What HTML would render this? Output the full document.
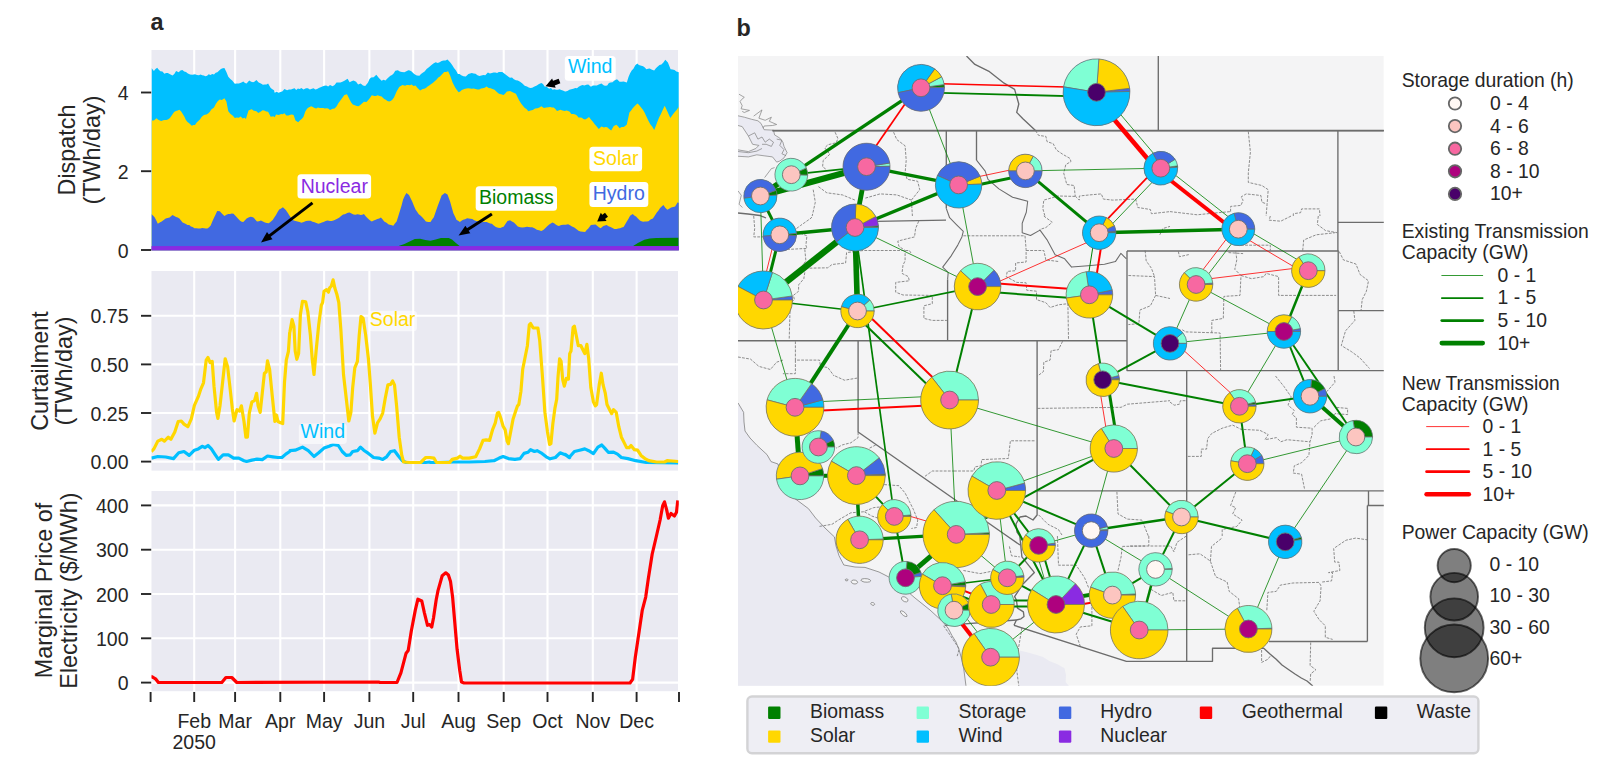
<!DOCTYPE html>
<html><head><meta charset="utf-8"><title>Figure</title>
<style>
html,body{margin:0;padding:0;background:#fff;}
body{width:1618px;height:766px;overflow:hidden;}
svg{display:block;font-family:"Liberation Sans", sans-serif;}
</style></head><body>
<svg width="1618" height="766" viewBox="0 0 1618 766">
<rect width="1618" height="766" fill="#fff"/>
<rect x="151.5" y="50.0" width="526.5" height="200.4" fill="#EAEAF2"/>
<clipPath id="c1"><rect x="151.5" y="50.0" width="527.3" height="200.4"/></clipPath>
<line x1="194.2" y1="50.0" x2="194.2" y2="250.4" stroke="#fff" stroke-width="2.1"/>
<line x1="235.1" y1="50.0" x2="235.1" y2="250.4" stroke="#fff" stroke-width="2.1"/>
<line x1="280.3" y1="50.0" x2="280.3" y2="250.4" stroke="#fff" stroke-width="2.1"/>
<line x1="324.1" y1="50.0" x2="324.1" y2="250.4" stroke="#fff" stroke-width="2.1"/>
<line x1="369.4" y1="50.0" x2="369.4" y2="250.4" stroke="#fff" stroke-width="2.1"/>
<line x1="413.2" y1="50.0" x2="413.2" y2="250.4" stroke="#fff" stroke-width="2.1"/>
<line x1="458.5" y1="50.0" x2="458.5" y2="250.4" stroke="#fff" stroke-width="2.1"/>
<line x1="503.7" y1="50.0" x2="503.7" y2="250.4" stroke="#fff" stroke-width="2.1"/>
<line x1="547.5" y1="50.0" x2="547.5" y2="250.4" stroke="#fff" stroke-width="2.1"/>
<line x1="592.8" y1="50.0" x2="592.8" y2="250.4" stroke="#fff" stroke-width="2.1"/>
<line x1="636.6" y1="50.0" x2="636.6" y2="250.4" stroke="#fff" stroke-width="2.1"/>
<line x1="151.5" y1="92.5" x2="678.0" y2="92.5" stroke="#fff" stroke-width="2.1"/>
<line x1="151.5" y1="171.2" x2="678.0" y2="171.2" stroke="#fff" stroke-width="2.1"/>
<polygon points="151.5,250.4 151.5,68.1 153.9,70.9 155.5,69.0 157.2,67.7 158.8,69.8 160.4,71.2 162.4,71.6 164.4,73.7 166.1,73.1 167.8,73.0 169.6,73.9 172.5,75.4 174.3,73.9 176.1,71.1 178.7,72.3 180.5,70.4 182.4,69.9 184.2,71.6 186.0,72.1 187.9,73.4 190.1,74.5 192.4,74.7 195.0,74.3 197.0,75.0 198.9,75.3 200.6,74.4 202.2,75.3 203.8,75.5 205.5,76.3 207.1,75.8 208.7,74.3 210.5,74.9 212.2,74.0 214.0,74.4 215.7,72.7 217.4,72.3 219.2,70.5 220.9,68.9 222.7,68.3 224.4,68.1 226.4,71.9 228.3,76.7 230.3,78.9 232.2,80.5 234.8,83.7 236.8,83.5 238.8,83.6 241.0,82.7 243.3,81.4 245.0,83.0 246.6,83.4 249.2,80.6 251.2,81.8 253.1,82.3 254.7,81.4 256.4,80.0 258.7,82.4 260.9,83.6 262.9,84.7 264.9,84.6 266.5,84.5 268.1,83.5 270.7,88.1 272.4,89.3 274.0,90.3 274.7,92.8 276.6,91.8 278.6,92.8 280.5,92.1 282.5,91.3 284.4,89.1 287.1,90.2 289.0,89.4 291.0,89.6 292.9,88.8 294.6,88.3 296.2,89.9 297.9,88.4 299.7,89.1 301.4,88.0 303.4,89.4 306.0,88.2 307.9,88.2 309.9,89.4 311.9,88.8 313.6,88.3 315.3,89.4 317.1,89.1 318.8,87.9 320.6,87.3 322.3,86.6 324.3,85.8 326.2,85.6 328.2,86.6 330.0,85.1 332.6,86.2 334.6,85.0 336.5,82.5 338.5,82.4 340.4,82.4 342.4,81.8 344.4,80.7 346.0,79.8 347.6,78.8 349.6,82.3 351.5,81.3 353.5,80.6 356.1,81.7 358.1,84.4 360.7,83.5 363.0,85.6 365.2,85.9 367.9,82.7 369.5,79.1 371.1,77.4 373.7,77.2 376.3,74.7 378.9,78.1 381.6,80.8 383.5,79.7 385.5,80.4 387.1,78.7 388.7,77.3 390.4,75.7 392.0,74.9 393.6,73.4 395.3,70.8 397.9,70.3 399.8,71.4 401.8,71.9 404.4,72.3 406.4,71.3 408.3,70.3 409.9,70.6 411.6,71.4 414.2,74.0 416.8,75.6 419.4,75.8 421.0,73.9 422.7,72.8 424.6,71.6 426.6,69.0 428.9,67.3 431.2,65.2 433.4,63.4 435.7,62.2 437.7,62.9 439.6,62.2 441.6,60.9 443.6,60.4 445.5,60.5 447.5,59.5 450.1,62.3 452.0,64.7 454.0,67.9 456.0,70.6 457.9,74.0 459.6,74.0 461.2,75.3 463.5,76.2 465.8,76.6 468.4,74.1 470.1,73.4 471.8,73.0 473.6,73.5 475.5,73.7 477.5,75.3 479.5,76.1 481.4,75.6 483.4,75.1 485.3,75.3 487.9,72.6 489.9,73.4 491.9,73.1 493.6,72.4 495.3,72.6 497.1,73.1 498.8,72.1 500.6,72.0 502.3,71.9 504.3,73.4 506.2,75.0 508.8,77.1 510.0,77.8 512.0,77.6 513.9,79.3 515.9,80.3 517.8,80.6 520.1,81.7 522.4,83.6 524.7,85.8 527.0,86.6 528.7,87.5 530.4,87.9 532.2,87.7 534.5,86.6 536.8,85.4 539.0,84.1 541.3,83.1 543.0,84.0 544.6,86.4 546.9,87.0 549.2,88.7 550.9,87.9 552.6,89.7 554.4,89.3 556.1,89.8 557.9,89.7 559.6,89.2 561.2,89.9 562.9,90.4 565.1,91.4 567.4,90.9 569.4,89.8 571.3,89.3 573.3,88.7 575.3,88.1 577.0,88.2 578.7,86.8 580.5,85.8 582.4,85.1 584.4,85.5 586.4,84.7 588.3,84.4 590.9,86.7 592.9,85.6 594.8,85.5 596.8,85.6 598.8,84.4 601.4,83.5 604.0,85.5 605.6,85.8 607.2,85.5 608.9,82.9 610.5,82.5 612.5,82.2 614.4,80.4 617.0,79.2 619.6,81.8 621.6,81.8 623.6,81.5 625.2,81.9 626.8,82.6 628.5,77.0 630.1,73.2 631.7,70.5 633.4,68.7 635.3,65.2 637.3,63.4 638.9,65.1 640.5,65.6 643.1,66.3 644.8,67.5 646.4,69.2 648.0,68.7 649.7,68.6 652.0,69.7 654.2,70.5 655.9,68.2 657.5,66.8 659.5,65.0 661.4,64.4 663.4,62.5 665.3,59.7 667.9,62.5 670.6,69.3 672.5,69.5 674.5,69.9 676.4,71.5 678.9,72.2 678.9,250.4" fill="#00BFFF" clip-path="url(#c1)"/>
<polygon points="151.5,250.4 151.5,120.5 153.9,120.6 156.5,118.3 158.2,119.8 159.8,120.6 161.4,121.0 163.1,120.3 164.8,120.0 166.5,120.1 168.3,119.3 169.9,118.0 171.5,115.7 174.1,112.0 175.9,111.0 177.6,110.6 179.4,109.8 181.0,111.3 182.6,113.8 184.3,116.6 185.9,120.0 187.5,121.9 189.2,123.2 191.8,125.8 193.4,124.9 195.0,125.1 196.7,122.6 198.3,120.9 199.9,119.6 201.6,117.1 203.2,115.6 204.8,114.8 206.5,114.6 208.1,113.6 209.7,112.1 211.3,109.4 214.0,107.5 215.9,103.8 217.9,101.1 219.8,99.4 221.8,100.1 224.4,98.2 226.4,101.5 228.3,111.3 230.3,113.8 232.9,115.7 234.8,117.9 236.8,117.6 238.8,117.7 240.7,116.6 242.7,118.6 244.6,117.8 245.9,119.1 248.5,110.5 250.2,109.8 251.8,109.3 253.8,110.7 256.4,111.2 258.3,113.1 260.9,111.6 262.6,110.3 264.2,110.4 266.2,111.6 268.1,111.8 270.7,116.7 273.4,116.2 274.7,117.3 276.0,114.4 278.6,115.0 281.2,114.1 282.8,114.3 284.4,113.2 286.4,115.4 288.4,115.5 290.3,114.8 292.0,114.6 293.6,114.9 295.5,120.5 298.2,122.2 300.1,120.3 301.7,119.0 303.4,117.0 305.3,111.5 307.0,108.7 308.6,107.4 311.2,106.2 312.8,107.0 314.5,108.1 316.2,108.5 317.9,107.6 319.7,107.9 321.4,108.0 323.2,108.0 324.9,108.4 326.5,108.2 328.2,108.5 330.0,109.9 332.6,108.8 334.6,108.4 336.5,106.6 338.5,103.0 340.4,100.5 342.4,97.7 344.4,95.0 347.0,94.3 349.6,99.6 351.2,102.5 352.8,104.5 354.8,105.3 356.8,105.9 358.4,106.3 360.0,105.3 362.0,103.5 363.9,101.7 366.5,102.0 369.2,99.1 371.8,95.2 374.4,96.0 376.0,96.0 377.6,95.2 379.6,96.0 381.6,96.6 384.2,99.1 385.8,99.8 387.4,101.1 389.1,101.6 390.7,101.1 392.3,99.8 394.0,97.6 396.6,91.5 399.2,87.0 400.8,86.1 402.4,85.1 405.1,85.8 406.7,85.0 408.3,84.9 409.9,85.2 411.6,84.4 413.5,86.0 415.5,85.5 417.5,88.0 420.1,90.5 422.7,89.0 424.3,88.8 425.9,88.0 427.6,86.4 429.2,85.4 430.9,84.3 432.7,82.9 434.4,81.4 436.4,79.8 438.3,77.6 440.0,76.5 441.6,74.7 444.2,71.9 446.2,71.9 448.1,71.2 450.1,75.4 452.7,82.8 455.3,87.7 456.9,90.1 458.6,92.2 460.2,91.4 461.8,90.1 464.4,89.0 466.4,88.5 468.4,88.3 470.1,88.4 471.8,88.7 473.6,88.4 475.5,89.1 477.5,89.5 479.2,89.4 481.0,88.4 482.7,88.3 484.7,87.8 486.6,86.6 488.6,87.9 490.6,88.3 492.5,89.0 494.5,89.8 497.1,92.3 499.0,93.7 501.0,94.3 503.6,95.0 505.2,93.5 506.9,91.6 508.8,91.2 510.0,91.0 512.6,92.2 514.2,93.0 515.9,93.8 517.5,96.9 519.1,100.3 521.1,103.4 523.1,105.9 524.8,108.0 526.5,109.0 528.3,111.2 530.6,110.5 532.8,109.9 535.1,108.6 537.4,108.2 539.4,107.4 541.3,106.2 543.9,108.1 546.2,107.4 548.5,107.2 550.2,107.1 552.0,107.4 553.7,107.5 555.4,109.0 557.0,110.9 558.6,110.4 560.3,109.7 562.5,110.6 564.8,111.1 566.5,110.6 568.1,110.9 569.7,111.7 571.3,113.9 573.3,114.0 575.3,114.6 576.9,115.5 578.5,117.4 580.2,117.4 581.8,117.7 583.4,119.0 585.1,119.6 587.0,118.6 589.0,117.1 590.9,119.5 592.9,121.8 594.5,124.0 596.1,125.7 598.8,129.1 601.4,126.4 604.0,127.6 605.6,127.0 607.2,127.3 609.2,128.9 611.2,130.5 613.8,125.9 616.4,124.7 618.0,126.2 619.6,128.2 621.6,127.1 623.6,127.1 625.2,125.9 626.8,124.5 629.4,112.5 631.1,110.5 632.7,108.3 635.0,105.7 637.3,103.5 638.9,104.8 640.5,106.7 643.1,110.0 644.8,112.9 646.4,116.5 648.4,120.7 650.3,124.2 652.3,126.7 654.2,130.1 655.9,125.7 657.5,121.5 659.1,117.5 660.8,114.2 662.7,109.9 664.7,105.8 667.3,111.3 670.3,118.0 673.2,114.0 674.8,112.1 676.4,110.2 678.9,106.8 678.9,250.4" fill="#FFD700" clip-path="url(#c1)"/>
<polygon points="151.5,250.4 151.5,213.9 152.9,215.4 154.6,217.3 156.2,220.2 157.8,223.8 159.8,222.6 161.7,221.4 163.7,220.0 165.7,218.4 167.6,218.0 169.6,217.5 172.5,214.9 174.3,215.9 176.1,216.9 177.7,217.5 179.4,218.5 181.0,220.6 182.6,222.6 184.3,223.3 185.9,224.1 187.5,224.9 189.2,224.9 190.9,226.4 192.6,227.1 194.4,228.2 196.3,228.2 198.3,228.5 200.3,228.5 202.2,228.0 204.0,228.3 205.7,228.5 207.4,228.5 209.1,227.2 210.7,225.6 212.3,221.5 214.0,217.8 215.6,214.6 217.2,211.1 219.8,211.3 222.1,213.7 224.4,215.9 226.4,214.8 228.3,214.0 230.1,214.0 231.8,213.6 233.5,213.7 235.2,215.5 236.8,217.3 238.4,219.1 240.1,220.7 241.7,221.7 243.3,222.0 245.0,220.2 246.6,218.6 248.5,217.5 250.5,216.8 252.1,216.9 253.8,217.7 255.4,219.7 257.0,221.5 259.0,221.2 260.9,220.4 262.9,221.6 264.9,222.5 266.8,222.9 268.8,223.3 270.7,221.8 272.7,219.9 274.3,217.4 276.0,215.0 277.6,211.9 279.2,209.4 281.1,208.4 282.9,207.3 285.8,209.9 287.7,212.7 289.7,215.9 291.6,218.4 293.6,220.6 295.5,221.1 297.5,221.5 299.5,222.0 301.4,222.7 303.7,222.1 306.0,221.0 308.3,220.8 310.6,220.7 312.5,221.8 314.5,222.3 316.4,223.1 318.4,223.8 320.1,223.3 321.9,222.6 323.6,221.9 325.6,221.0 327.5,220.5 330.0,221.1 331.7,220.9 333.5,220.5 335.2,219.7 337.2,218.7 339.1,217.8 341.1,216.1 343.1,214.6 344.7,214.2 346.3,213.5 347.9,212.8 349.6,212.6 351.5,213.6 353.5,214.6 355.5,214.7 357.4,214.3 359.0,214.6 360.7,215.0 362.3,214.7 363.9,214.1 365.9,216.6 367.9,218.6 369.8,220.3 371.8,221.6 373.7,220.6 375.7,219.8 377.4,218.9 379.2,218.4 380.9,217.5 382.5,219.3 384.2,221.5 386.5,222.8 388.7,224.4 391.0,224.9 393.3,225.8 394.9,223.5 396.6,221.4 398.2,216.4 399.8,211.2 401.5,205.7 403.1,199.6 404.7,196.1 406.4,193.0 409.0,195.0 410.6,198.2 412.2,201.5 413.9,205.7 415.5,209.5 417.1,211.8 418.8,214.2 420.4,215.5 422.0,217.1 424.0,219.3 425.9,221.5 428.2,222.0 430.5,222.0 432.1,219.4 433.8,217.3 435.7,211.7 437.7,206.0 439.6,200.9 441.6,195.6 443.2,194.3 444.9,192.9 447.5,194.5 450.1,201.6 451.7,207.3 453.4,213.3 455.0,216.4 456.6,219.9 458.2,220.8 459.9,221.9 461.5,220.7 463.1,219.8 465.1,219.2 467.1,218.3 468.8,218.6 470.5,218.8 472.3,219.0 474.2,220.2 476.2,221.1 477.9,221.6 479.7,221.9 481.4,222.3 483.2,222.0 484.9,222.1 486.6,222.0 488.4,222.7 490.1,223.5 491.9,223.7 493.8,225.5 495.8,226.9 498.1,227.7 500.3,228.0 502.0,227.2 503.6,226.7 505.6,223.8 507.5,221.1 510.0,220.3 512.0,221.6 513.9,222.5 515.9,224.4 517.8,226.4 520.1,227.2 522.4,227.6 524.7,227.3 527.0,226.8 528.7,227.1 530.4,227.2 532.2,227.3 534.5,228.3 536.8,229.7 539.0,230.2 541.3,231.0 543.3,229.9 545.2,228.3 547.2,226.3 549.2,224.5 550.8,223.6 552.4,222.4 554.1,223.3 555.7,224.6 557.3,225.6 558.9,226.0 561.2,225.1 563.5,224.7 565.8,224.7 568.1,224.2 570.0,225.2 572.0,226.4 574.3,227.6 576.6,229.2 578.5,230.8 580.5,231.6 582.8,231.8 585.1,232.1 586.7,230.1 588.3,228.4 590.9,225.1 593.2,224.7 595.5,224.6 597.1,225.8 598.8,227.2 600.7,228.3 603.3,225.9 605.0,225.5 606.6,225.0 608.5,226.3 610.5,227.0 612.5,228.0 614.4,229.0 616.4,229.0 618.3,228.6 620.1,228.3 621.8,227.5 623.6,227.0 625.2,224.3 626.8,221.4 628.5,218.7 630.1,215.8 632.7,214.1 634.3,215.6 636.0,216.5 637.9,218.5 639.9,220.5 641.5,221.2 643.1,221.7 644.9,221.6 646.6,221.4 648.4,221.2 650.6,219.6 652.9,218.5 654.9,215.4 656.8,212.6 658.5,210.5 660.1,208.1 661.7,206.6 663.4,205.1 665.3,207.7 667.3,209.8 669.2,208.7 671.2,207.4 673.2,206.9 675.1,206.4 677.7,202.2 678.9,202.9 678.9,250.4" fill="#4169E1" clip-path="url(#c1)"/>
<polygon points="397.9,246.2 404.4,244.0 409.6,241.4 414.8,239.0 420.1,238.8 425.3,240.1 430.5,240.7 435.7,239.4 440.9,238.1 448.8,238.1 452.0,239.4 455.3,242.4 459.9,246.2" fill="#008000" clip-path="url(#c1)"/>
<polygon points="632.7,246.2 637.9,242.9 644.4,239.8 649.7,238.5 656.2,238.1 678.4,237.7 678.4,246.2" fill="#008000" clip-path="url(#c1)"/>
<rect x="151.5" y="246.1" width="527.4" height="4.3" fill="#8A2BE2"/>
<line x1="141.0" y1="92.5" x2="151.2" y2="92.5" stroke="#262626" stroke-width="1.9"/>
<text x="128.5" y="100.0" font-size="19.50" text-anchor="end" fill="#262626" font-weight="normal" >4</text>
<line x1="141.0" y1="171.2" x2="151.2" y2="171.2" stroke="#262626" stroke-width="1.9"/>
<text x="128.5" y="178.7" font-size="19.50" text-anchor="end" fill="#262626" font-weight="normal" >2</text>
<line x1="141.0" y1="250.0" x2="151.2" y2="250.0" stroke="#262626" stroke-width="1.9"/>
<text x="128.5" y="257.5" font-size="19.50" text-anchor="end" fill="#262626" font-weight="normal" >0</text>
<text transform="translate(74.7,150.0) rotate(-90)" font-size="23.40" text-anchor="middle" fill="#262626">Dispatch</text>
<text transform="translate(100.1,150.0) rotate(-90)" font-size="23.40" text-anchor="middle" fill="#262626">(TWh/day)</text>
<rect x="564.8" y="55.9" width="50.9" height="24.8" rx="3.5" ry="3.5" fill="#fff" fill-opacity="1.00"/>
<text x="590.2" y="72.8" font-size="19.50" text-anchor="middle" fill="#00BFFF" font-weight="normal" >Wind</text>
<rect x="589.4" y="146.7" width="52.7" height="24.6" rx="3.5" ry="3.5" fill="#fff" fill-opacity="1.00"/>
<text x="615.8" y="164.9" font-size="19.50" text-anchor="middle" fill="#FFD700" font-weight="normal" >Solar</text>
<rect x="589.4" y="182.0" width="58.9" height="25.1" rx="3.5" ry="3.5" fill="#fff" fill-opacity="1.00"/>
<text x="618.8" y="199.8" font-size="19.50" text-anchor="middle" fill="#4169E1" font-weight="normal" >Hydro</text>
<rect x="475.7" y="186.2" width="81.3" height="24.5" rx="3.5" ry="3.5" fill="#fff" fill-opacity="1.00"/>
<text x="516.4" y="203.8" font-size="19.50" text-anchor="middle" fill="#008000" font-weight="normal" >Biomass</text>
<rect x="297.5" y="174.3" width="73.6" height="24.3" rx="3.5" ry="3.5" fill="#fff" fill-opacity="1.00"/>
<text x="334.3" y="192.6" font-size="19.50" text-anchor="middle" fill="#8A2BE2" font-weight="normal" >Nuclear</text>
<line x1="312.5" y1="202.9" x2="268.1" y2="236.9" stroke="#000" stroke-width="3.0"/>
<polygon points="261.0,242.4 267.0,232.1 272.5,239.3" fill="#000"/>
<line x1="491.9" y1="214.0" x2="466.2" y2="230.6" stroke="#000" stroke-width="3.0"/>
<polygon points="458.6,235.5 465.4,225.8 470.3,233.3" fill="#000"/>
<line x1="559.5" y1="81.0" x2="552.0" y2="83.8" stroke="#000" stroke-width="5.0"/>
<polygon points="545.5,86.3 552.1,78.4 555.7,87.8" fill="#000"/>
<line x1="606.5" y1="214.8" x2="602.1" y2="218.0" stroke="#000" stroke-width="5.0"/>
<polygon points="597.2,221.5 600.8,212.8 606.6,220.9" fill="#000"/>
<text x="150.6" y="30.0" font-size="23.40" text-anchor="start" fill="#262626" font-weight="bold" >a</text>
<rect x="151.5" y="271.0" width="526.5" height="199.6" fill="#EAEAF2"/>
<clipPath id="c2"><rect x="151.5" y="271.0" width="527.3" height="199.6"/></clipPath>
<line x1="194.2" y1="271.0" x2="194.2" y2="470.6" stroke="#fff" stroke-width="2.1"/>
<line x1="235.1" y1="271.0" x2="235.1" y2="470.6" stroke="#fff" stroke-width="2.1"/>
<line x1="280.3" y1="271.0" x2="280.3" y2="470.6" stroke="#fff" stroke-width="2.1"/>
<line x1="324.1" y1="271.0" x2="324.1" y2="470.6" stroke="#fff" stroke-width="2.1"/>
<line x1="369.4" y1="271.0" x2="369.4" y2="470.6" stroke="#fff" stroke-width="2.1"/>
<line x1="413.2" y1="271.0" x2="413.2" y2="470.6" stroke="#fff" stroke-width="2.1"/>
<line x1="458.5" y1="271.0" x2="458.5" y2="470.6" stroke="#fff" stroke-width="2.1"/>
<line x1="503.7" y1="271.0" x2="503.7" y2="470.6" stroke="#fff" stroke-width="2.1"/>
<line x1="547.5" y1="271.0" x2="547.5" y2="470.6" stroke="#fff" stroke-width="2.1"/>
<line x1="592.8" y1="271.0" x2="592.8" y2="470.6" stroke="#fff" stroke-width="2.1"/>
<line x1="636.6" y1="271.0" x2="636.6" y2="470.6" stroke="#fff" stroke-width="2.1"/>
<line x1="151.5" y1="315.8" x2="678.0" y2="315.8" stroke="#fff" stroke-width="2.1"/>
<line x1="151.5" y1="364.4" x2="678.0" y2="364.4" stroke="#fff" stroke-width="2.1"/>
<line x1="151.5" y1="413.0" x2="678.0" y2="413.0" stroke="#fff" stroke-width="2.1"/>
<line x1="151.5" y1="461.6" x2="678.0" y2="461.6" stroke="#fff" stroke-width="2.1"/>
<polyline points="151.3,458.1 157.8,456.5 165.7,457.0 173.5,458.6 178.7,452.8 184.0,451.5 189.2,455.4 194.4,450.2 198.3,448.9 202.2,446.3 204.9,447.6 208.0,445.5 211.4,448.9 214.8,454.1 218.4,459.4 223.1,454.9 228.4,454.9 233.6,458.1 238.8,458.1 244.0,460.7 246.6,461.5 251.9,460.1 257.1,459.1 262.3,459.6 267.5,456.0 272.8,456.8 278.0,457.5 281.9,457.5 285.8,454.1 289.7,451.5 290.0,450.7 295.2,450.2 302.5,447.1 308.3,450.7 314.0,456.5 318.7,452.8 324.0,448.1 329.2,446.3 333.1,444.5 338.3,445.5 342.2,451.5 346.2,455.4 350.1,454.9 352.7,451.5 357.4,450.7 360.5,447.1 363.7,450.2 368.4,453.4 373.6,457.5 378.8,458.1 382.7,459.4 386.6,456.8 390.6,451.5 394.5,450.7 398.4,456.0 402.3,460.7 406.2,462.5 425.8,462.5 429.7,462.0 430.0,462.5 436.5,462.5 453.5,462.0 469.2,462.0 484.9,461.5 494.0,460.7 499.2,458.1 503.1,456.5 508.4,458.6 514.9,459.4 520.1,458.6 524.0,453.4 527.9,452.3 530.6,449.7 534.5,451.5 537.1,450.7 541.0,452.8 546.2,456.8 550.1,458.8 555.4,457.5 560.1,452.8 564.5,454.4 569.7,457.5 565.2,454.4 569.1,457.5 574.4,451.5 579.6,450.2 584.8,448.9 588.7,450.7 593.4,453.6 597.9,447.1 601.8,445.0 604.9,448.4 608.3,452.3 613.5,452.1 617.5,454.1 621.4,457.5 627.9,458.6 635.7,460.7 646.2,462.5 678.1,462.8" fill="none" stroke="#00BFFF" stroke-width="3.2" stroke-linejoin="round" clip-path="url(#c2)"/>
<polyline points="151.3,451.5 153.9,448.9 157.8,441.1 161.8,439.3 164.4,441.1 168.3,437.2 170.9,439.3 174.8,431.9 178.2,421.5 181.3,421.0 184.0,424.1 187.9,426.7 191.3,418.9 194.4,405.3 198.3,396.7 200.9,388.8 203.5,382.8 206.2,360.1 208.0,357.5 210.1,362.7 212.2,361.4 214.0,386.2 216.6,412.4 217.9,418.4 220.0,405.8 222.6,382.3 225.2,358.8 227.6,366.6 229.7,384.9 232.3,408.4 234.1,421.0 237.0,409.7 239.6,411.0 241.4,405.8 244.0,421.5 245.9,437.2 247.4,437.2 249.3,413.1 251.9,401.9 254.5,400.6 256.6,393.3 258.1,405.8 260.2,412.4 262.3,392.8 264.4,373.2 266.2,371.9 267.5,360.9 269.6,369.3 272.2,395.4 274.9,421.5 276.4,415.0 278.0,421.5 280.6,422.8 282.7,423.6 284.5,382.3 286.3,360.1 288.4,351.5 289.7,332.7 290.0,331.4 292.1,319.6 293.9,326.2 295.2,351.0 296.8,359.3 298.6,353.6 300.4,314.4 302.5,301.3 305.7,301.9 307.8,311.8 310.4,335.3 312.2,358.8 314.0,374.5 316.1,351.0 318.7,324.9 321.3,305.3 322.6,302.6 324.0,291.4 326.6,289.6 328.4,292.2 329.7,287.8 331.3,286.2 333.1,279.9 334.9,288.3 337.0,294.8 338.8,302.6 340.9,330.1 343.5,374.5 346.2,398.0 348.8,421.0 350.9,412.4 352.7,387.5 354.8,367.9 357.4,361.4 359.2,335.3 361.0,316.5 363.1,318.3 365.7,335.3 368.4,358.8 370.4,384.9 372.5,416.3 374.9,433.2 377.5,422.8 380.1,418.9 382.7,413.1 385.3,398.0 387.9,384.9 390.6,384.4 392.6,381.0 394.5,384.9 396.6,405.8 399.2,437.2 401.8,455.4 403.6,462.0 410.1,462.5 420.6,462.5 425.8,457.5 429.7,457.5 430.0,457.5 433.9,458.1 436.5,462.5 449.6,462.5 452.2,459.4 457.4,458.1 460.0,456.2 462.6,458.1 469.2,458.1 475.7,456.8 479.6,448.9 483.0,440.3 486.2,439.8 489.6,440.3 492.7,429.3 495.3,422.8 497.4,413.1 498.7,412.4 501.0,418.9 503.1,426.2 505.2,429.9 507.1,441.1 508.4,443.7 510.4,433.2 513.1,418.9 515.7,411.0 517.5,405.8 518.8,404.5 520.9,391.5 522.7,369.3 525.3,356.2 527.4,345.7 529.3,324.9 530.6,323.5 533.2,328.0 535.8,328.0 537.9,328.0 539.7,340.5 542.3,374.5 544.9,412.4 547.5,431.9 549.6,444.5 550.9,443.7 552.8,424.1 554.9,408.4 556.7,399.3 558.0,377.1 559.6,358.8 561.1,361.4 562.7,379.7 564.3,386.2 566.3,378.4 568.4,379.2 569.7,353.6 571.0,351.0 573.1,327.5 574.4,326.2 576.2,335.3 578.3,345.7 580.9,345.7 583.5,351.0 584.8,353.6 586.9,344.4 588.7,358.8 590.8,387.5 593.4,401.9 595.3,405.8 596.6,404.5 599.2,384.9 601.3,373.2 603.1,384.9 605.2,392.8 607.0,404.5 609.6,409.7 611.7,413.7 613.5,409.7 616.2,412.4 618.8,426.7 621.4,437.2 624.0,442.4 626.6,447.6 629.2,447.6 631.0,445.5 634.4,449.7 637.6,450.2 641.0,455.4 644.9,458.6 648.8,460.7 656.6,462.0 664.5,462.0 667.1,460.7 678.1,461.5" fill="none" stroke="#FFD700" stroke-width="3.2" stroke-linejoin="round" clip-path="url(#c2)"/>
<line x1="141.0" y1="315.8" x2="151.2" y2="315.8" stroke="#262626" stroke-width="1.9"/>
<text x="128.5" y="323.3" font-size="19.50" text-anchor="end" fill="#262626" font-weight="normal" >0.75</text>
<line x1="141.0" y1="364.4" x2="151.2" y2="364.4" stroke="#262626" stroke-width="1.9"/>
<text x="128.5" y="371.9" font-size="19.50" text-anchor="end" fill="#262626" font-weight="normal" >0.50</text>
<line x1="141.0" y1="413.0" x2="151.2" y2="413.0" stroke="#262626" stroke-width="1.9"/>
<text x="128.5" y="420.5" font-size="19.50" text-anchor="end" fill="#262626" font-weight="normal" >0.25</text>
<line x1="141.0" y1="461.6" x2="151.2" y2="461.6" stroke="#262626" stroke-width="1.9"/>
<text x="128.5" y="469.1" font-size="19.50" text-anchor="end" fill="#262626" font-weight="normal" >0.00</text>
<text transform="translate(47.5,371.0) rotate(-90)" font-size="23.40" text-anchor="middle" fill="#262626">Curtailment</text>
<text transform="translate(72.4,371.0) rotate(-90)" font-size="23.40" text-anchor="middle" fill="#262626">(TWh/day)</text>
<rect x="368.3" y="310.7" width="48.6" height="20.6" rx="3.5" ry="3.5" fill="#fff" fill-opacity="0.60"/>
<text x="392.6" y="325.8" font-size="19.50" text-anchor="middle" fill="#FFD700" font-weight="normal" >Solar</text>
<rect x="298.8" y="423.4" width="48.0" height="20.5" rx="3.5" ry="3.5" fill="#fff" fill-opacity="0.60"/>
<text x="322.8" y="438.4" font-size="19.50" text-anchor="middle" fill="#00BFFF" font-weight="normal" >Wind</text>
<rect x="151.5" y="491.0" width="526.5" height="200.2" fill="#EAEAF2"/>
<clipPath id="c3"><rect x="151.5" y="491.0" width="527.3" height="200.2"/></clipPath>
<line x1="194.2" y1="491.0" x2="194.2" y2="691.2" stroke="#fff" stroke-width="2.1"/>
<line x1="235.1" y1="491.0" x2="235.1" y2="691.2" stroke="#fff" stroke-width="2.1"/>
<line x1="280.3" y1="491.0" x2="280.3" y2="691.2" stroke="#fff" stroke-width="2.1"/>
<line x1="324.1" y1="491.0" x2="324.1" y2="691.2" stroke="#fff" stroke-width="2.1"/>
<line x1="369.4" y1="491.0" x2="369.4" y2="691.2" stroke="#fff" stroke-width="2.1"/>
<line x1="413.2" y1="491.0" x2="413.2" y2="691.2" stroke="#fff" stroke-width="2.1"/>
<line x1="458.5" y1="491.0" x2="458.5" y2="691.2" stroke="#fff" stroke-width="2.1"/>
<line x1="503.7" y1="491.0" x2="503.7" y2="691.2" stroke="#fff" stroke-width="2.1"/>
<line x1="547.5" y1="491.0" x2="547.5" y2="691.2" stroke="#fff" stroke-width="2.1"/>
<line x1="592.8" y1="491.0" x2="592.8" y2="691.2" stroke="#fff" stroke-width="2.1"/>
<line x1="636.6" y1="491.0" x2="636.6" y2="691.2" stroke="#fff" stroke-width="2.1"/>
<line x1="151.5" y1="505.4" x2="678.0" y2="505.4" stroke="#fff" stroke-width="2.1"/>
<line x1="151.5" y1="549.7" x2="678.0" y2="549.7" stroke="#fff" stroke-width="2.1"/>
<line x1="151.5" y1="594.0" x2="678.0" y2="594.0" stroke="#fff" stroke-width="2.1"/>
<line x1="151.5" y1="638.3" x2="678.0" y2="638.3" stroke="#fff" stroke-width="2.1"/>
<line x1="151.5" y1="682.6" x2="678.0" y2="682.6" stroke="#fff" stroke-width="2.1"/>
<polyline points="150.8,676.3 153.3,677.5 155.9,679.2 158.4,682.5 221.8,682.5 225.9,677.5 231.8,677.5 236.8,682.5 378.6,682.0 380.0,682.5 397.0,682.5 400.9,672.8 406.1,653.2 408.2,650.6 411.3,631.0 415.3,610.1 417.9,599.2 421.8,601.0 424.4,612.8 427.5,625.3 429.6,624.5 431.7,627.1 433.5,618.0 436.2,599.7 438.0,590.6 442.2,575.7 445.8,572.8 448.4,574.9 450.5,581.4 452.6,597.1 454.4,618.0 457.1,649.3 459.7,670.2 461.5,682.0 464.1,683.0 520.0,683.0 600.0,683.0 630.0,683.0 632.6,679.4 635.3,657.2 639.2,631.0 642.3,610.1 645.7,597.1 648.3,578.8 652.2,554.0 656.2,537.0 660.1,520.0 662.7,505.7 664.5,501.8 666.6,509.6 668.4,518.2 671.0,513.5 674.4,516.1 676.5,512.2 677.8,500.4" fill="none" stroke="#FF0000" stroke-width="3.2" stroke-linejoin="round" clip-path="url(#c3)"/>
<line x1="141.0" y1="505.4" x2="151.2" y2="505.4" stroke="#262626" stroke-width="1.9"/>
<text x="128.5" y="512.9" font-size="19.50" text-anchor="end" fill="#262626" font-weight="normal" >400</text>
<line x1="141.0" y1="549.7" x2="151.2" y2="549.7" stroke="#262626" stroke-width="1.9"/>
<text x="128.5" y="557.2" font-size="19.50" text-anchor="end" fill="#262626" font-weight="normal" >300</text>
<line x1="141.0" y1="594.0" x2="151.2" y2="594.0" stroke="#262626" stroke-width="1.9"/>
<text x="128.5" y="601.5" font-size="19.50" text-anchor="end" fill="#262626" font-weight="normal" >200</text>
<line x1="141.0" y1="638.3" x2="151.2" y2="638.3" stroke="#262626" stroke-width="1.9"/>
<text x="128.5" y="645.8" font-size="19.50" text-anchor="end" fill="#262626" font-weight="normal" >100</text>
<line x1="141.0" y1="682.6" x2="151.2" y2="682.6" stroke="#262626" stroke-width="1.9"/>
<text x="128.5" y="690.1" font-size="19.50" text-anchor="end" fill="#262626" font-weight="normal" >0</text>
<text transform="translate(51.6,590.6) rotate(-90)" font-size="23.40" text-anchor="middle" fill="#262626">Marginal Price of</text>
<text transform="translate(77.0,590.6) rotate(-90)" font-size="23.40" text-anchor="middle" fill="#262626">Electricity ($/MWh)</text>
<line x1="150.6" y1="692.0" x2="150.6" y2="702.0" stroke="#262626" stroke-width="1.9"/>
<line x1="194.2" y1="692.0" x2="194.2" y2="702.0" stroke="#262626" stroke-width="1.9"/>
<line x1="235.1" y1="692.0" x2="235.1" y2="702.0" stroke="#262626" stroke-width="1.9"/>
<line x1="280.3" y1="692.0" x2="280.3" y2="702.0" stroke="#262626" stroke-width="1.9"/>
<line x1="324.1" y1="692.0" x2="324.1" y2="702.0" stroke="#262626" stroke-width="1.9"/>
<line x1="369.4" y1="692.0" x2="369.4" y2="702.0" stroke="#262626" stroke-width="1.9"/>
<line x1="413.2" y1="692.0" x2="413.2" y2="702.0" stroke="#262626" stroke-width="1.9"/>
<line x1="458.5" y1="692.0" x2="458.5" y2="702.0" stroke="#262626" stroke-width="1.9"/>
<line x1="503.7" y1="692.0" x2="503.7" y2="702.0" stroke="#262626" stroke-width="1.9"/>
<line x1="547.5" y1="692.0" x2="547.5" y2="702.0" stroke="#262626" stroke-width="1.9"/>
<line x1="592.8" y1="692.0" x2="592.8" y2="702.0" stroke="#262626" stroke-width="1.9"/>
<line x1="636.6" y1="692.0" x2="636.6" y2="702.0" stroke="#262626" stroke-width="1.9"/>
<line x1="679.0" y1="692.0" x2="679.0" y2="702.0" stroke="#262626" stroke-width="1.9"/>
<text x="194.2" y="727.6" font-size="19.50" text-anchor="middle" fill="#262626" font-weight="normal" >Feb</text>
<text x="235.1" y="727.6" font-size="19.50" text-anchor="middle" fill="#262626" font-weight="normal" >Mar</text>
<text x="280.3" y="727.6" font-size="19.50" text-anchor="middle" fill="#262626" font-weight="normal" >Apr</text>
<text x="324.1" y="727.6" font-size="19.50" text-anchor="middle" fill="#262626" font-weight="normal" >May</text>
<text x="369.4" y="727.6" font-size="19.50" text-anchor="middle" fill="#262626" font-weight="normal" >Jun</text>
<text x="413.2" y="727.6" font-size="19.50" text-anchor="middle" fill="#262626" font-weight="normal" >Jul</text>
<text x="458.5" y="727.6" font-size="19.50" text-anchor="middle" fill="#262626" font-weight="normal" >Aug</text>
<text x="503.7" y="727.6" font-size="19.50" text-anchor="middle" fill="#262626" font-weight="normal" >Sep</text>
<text x="547.5" y="727.6" font-size="19.50" text-anchor="middle" fill="#262626" font-weight="normal" >Oct</text>
<text x="592.8" y="727.6" font-size="19.50" text-anchor="middle" fill="#262626" font-weight="normal" >Nov</text>
<text x="636.6" y="727.6" font-size="19.50" text-anchor="middle" fill="#262626" font-weight="normal" >Dec</text>
<text x="194.2" y="748.6" font-size="19.50" text-anchor="middle" fill="#262626" font-weight="normal" >2050</text>
<text x="736.6" y="36.3" font-size="23.40" text-anchor="start" fill="#262626" font-weight="bold" >b</text>
<clipPath id="cm"><rect x="738.0" y="55.9" width="645.8" height="629.9"/></clipPath>
<g clip-path="url(#cm)">
<rect x="738.0" y="55.9" width="645.8" height="629.9" fill="#F4F4F5"/>
<polygon points="738.0,402.9 743.6,412.3 744.0,422.0 745.0,431.0 750.0,438.0 756.8,445.2 762.0,450.0 767.0,454.6 771.0,461.6 778.0,464.0 782.0,480.0 790.0,495.0 799.0,501.6 808.5,508.7 815.6,518.0 825.0,528.0 834.4,536.9 836.0,546.0 839.0,555.7 843.8,565.0 855.0,567.0 865.0,567.4 879.0,572.0 888.4,576.8 900.0,585.0 915.0,598.0 930.0,610.0 942.5,621.5 948.0,628.0 952.0,635.6 956.0,642.0 959.0,649.7 962.0,660.0 963.7,668.5 966.0,686.0 738.0,686.0" fill="#EAEAF2"/>
<polyline points="738.0,402.9 743.6,412.3 744.0,422.0 745.0,431.0 750.0,438.0 756.8,445.2 762.0,450.0 767.0,454.6 771.0,461.6 778.0,464.0 782.0,480.0 790.0,495.0 799.0,501.6 808.5,508.7 815.6,518.0 825.0,528.0 834.4,536.9 836.0,546.0 839.0,555.7 843.8,565.0 855.0,567.0 865.0,567.4 879.0,572.0 888.4,576.8 900.0,585.0 915.0,598.0 930.0,610.0 942.5,621.5 948.0,628.0 952.0,635.6 956.0,642.0 959.0,649.7 962.0,660.0 963.7,668.5 966.0,686.0" fill="none" stroke="#808080" stroke-width="0.8"/>
<polygon points="1019.2,686.0 1019.9,650.5 1028.0,652.5 1037.5,655.2 1043.0,657.0 1049.3,661.1 1057.0,664.0 1064.5,668.2 1066.0,675.0 1065.7,682.3 1069.0,686.0" fill="#EAEAF2"/>
<polygon points="730.0,114.0 744.3,117.2 751.6,119.3 757.9,120.8 761.0,123.4 764.1,129.7 773.5,130.2 774.6,134.9 779.8,138.1 782.9,142.2 784.0,146.4 787.1,152.7 784.0,157.9 779.8,161.0 776.7,162.1 772.5,156.9 764.1,155.8 756.8,154.8 748.4,156.9 730.0,155.8" fill="#EAEAF2" stroke="#808080" stroke-width="0.7"/>
<polygon points="730.0,123.4 742.2,126.6 748.4,136.0 752.6,144.3 758.9,145.4 755.8,148.5 748.4,151.6 730.0,148.5" fill="#F4F4F5" stroke="#808080" stroke-width="0.7"/>
<polyline points="739.0,94.2 744.3,97.3 741.7,99.4 740.1,101.5 742.2,105.7 741.1,108.8 749.5,110.4 744.3,112.5 742.2,111.4" fill="none" stroke="#808080" stroke-width="0.7"/>
<polyline points="753.7,116.1 762.0,109.9 758.9,118.2 765.2,120.3 771.4,117.2 769.3,121.3 776.7,124.5 772.5,125.5 764.1,126.0 763.1,128.1" fill="none" stroke="#808080" stroke-width="0.7"/>
<polyline points="748.4,136.0 754.7,132.8 757.9,139.1 762.0,137.0 765.2,142.2 769.3,139.1 773.5,142.2 771.4,146.4 766.2,144.3 762.0,144.3" fill="none" stroke="#808080" stroke-width="0.7"/>
<polyline points="776.7,139.1 781.9,140.2 779.8,145.4 784.0,149.6 781.9,153.7 786.1,155.8" fill="none" stroke="#808080" stroke-width="0.7"/>
<polyline points="730.0,150.6 748.4,152.7 756.8,151.1 762.0,148.5" fill="none" stroke="#808080" stroke-width="0.7"/>
<polyline points="764.6,177.6 771.3,168.7 774.6,167.6" fill="none" stroke="#808080" stroke-width="0.7"/>
<polyline points="738.0,190.9 741.3,195.3 739.1,204.2 742.4,207.5" fill="none" stroke="#808080" stroke-width="0.7"/>
<polygon points="848.1,579.9 847.4,580.8 845.9,580.8 845.1,579.9 845.9,579.0 847.4,579.0" fill="#F4F4F5" stroke="#707070" stroke-width="0.7"/>
<polygon points="857.6,582.6 856.7,583.6 855.0,584.0 853.1,583.7 851.6,582.7 851.2,581.4 852.1,580.4 853.8,580.0 855.7,580.3 857.2,581.3" fill="#F4F4F5" stroke="#707070" stroke-width="0.7"/>
<polygon points="870.8,580.8 869.7,581.8 867.2,582.2 864.1,582.0 861.7,581.1 860.8,580.0 861.9,579.0 864.4,578.6 867.5,578.8 869.9,579.7" fill="#F4F4F5" stroke="#707070" stroke-width="0.7"/>
<polygon points="874.6,604.6 874.0,605.2 872.9,605.3 871.7,604.9 870.9,604.1 870.8,603.2 871.4,602.6 872.5,602.5 873.7,602.9 874.5,603.7" fill="#F4F4F5" stroke="#707070" stroke-width="0.7"/>
<polygon points="907.8,601.1 906.6,601.9 904.6,601.7 902.7,600.6 901.5,599.0 901.6,597.5 902.8,596.7 904.8,596.9 906.7,598.0 907.9,599.6" fill="#F4F4F5" stroke="#707070" stroke-width="0.7"/>
<polygon points="906.9,616.4 905.7,616.6 903.7,615.7 901.7,614.0 900.5,612.2 900.5,611.0 901.7,610.8 903.7,611.7 905.7,613.4 906.9,615.2" fill="#F4F4F5" stroke="#707070" stroke-width="0.7"/>
<polyline points="835.1,132.2 837.9,138.5 836.2,142.7 827.8,144.8 824.7,147.9 829.9,154.2 823.2,160.4 822.6,166.7 826.8,169.9" fill="none" stroke="#808080" stroke-width="0.9" stroke-dasharray="2.8,1.3"/>
<polyline points="893.6,132.2 896.8,139.6 905.1,145.8 906.2,160.4 905.1,173.0 907.2,179.3 917.7,181.3 919.7,189.7 911.4,200.1 912.4,216.0" fill="none" stroke="#808080" stroke-width="0.9" stroke-dasharray="2.8,1.3"/>
<polyline points="818.4,186.6 826.8,192.8 842.4,194.9 855.0,200.1" fill="none" stroke="#808080" stroke-width="0.9" stroke-dasharray="2.8,1.3"/>
<polyline points="813.2,189.7 815.3,202.2 812.2,216.0" fill="none" stroke="#808080" stroke-width="0.9" stroke-dasharray="2.8,1.3"/>
<polyline points="865.4,198.1 880.1,193.9 896.8,194.9 911.4,200.1" fill="none" stroke="#808080" stroke-width="0.9" stroke-dasharray="2.8,1.3"/>
<polyline points="1035.5,130.6 1038.6,135.4 1045.9,136.4 1047.0,141.6 1053.2,143.7 1056.4,150.0 1062.6,154.2 1069.9,158.4 1071.0,161.5 1065.8,164.6 1063.7,173.0 1066.8,184.5 1074.1,185.5 1075.2,196.0" fill="none" stroke="#808080" stroke-width="0.9" stroke-dasharray="2.8,1.3"/>
<polyline points="1075.2,196.0 1079.3,200.1 1079.3,196.0 1089.8,194.9 1101.3,193.9 1103.4,199.1 1112.8,200.1 1135.7,199.1 1137.8,207.5 1150.4,209.5 1151.4,213.7 1170.0,211.6" fill="none" stroke="#808080" stroke-width="0.9" stroke-dasharray="2.8,1.3"/>
<polyline points="1075.2,196.4 1058.4,196.0 1043.8,200.1 1042.8,208.5 1044.9,216.0" fill="none" stroke="#808080" stroke-width="0.9" stroke-dasharray="2.8,1.3"/>
<polyline points="1248.3,131.6 1250.4,152.1 1248.3,173.0 1248.3,182.4 1261.9,185.5 1268.2,189.7 1267.1,204.3 1266.1,216.0" fill="none" stroke="#808080" stroke-width="0.9" stroke-dasharray="2.8,1.3"/>
<polyline points="1230.6,211.6 1230.6,206.4 1241.0,205.4 1243.1,200.1 1241.0,197.0 1246.2,193.9 1260.9,195.5 1261.9,202.2 1266.5,203.9" fill="none" stroke="#808080" stroke-width="0.9" stroke-dasharray="2.8,1.3"/>
<polyline points="1293.3,216.0 1293.3,213.7 1300.6,212.7 1301.6,208.9 1319.4,208.9 1320.0,216.0" fill="none" stroke="#808080" stroke-width="0.9" stroke-dasharray="2.8,1.3"/>
<polyline points="1170.0,211.6 1197.2,214.8 1213.9,213.1 1230.6,211.6" fill="none" stroke="#808080" stroke-width="0.9" stroke-dasharray="2.8,1.3"/>
<polyline points="753.7,216.0 754.7,228.5 753.7,236.9 763.1,236.9" fill="none" stroke="#808080" stroke-width="0.9" stroke-dasharray="2.8,1.3"/>
<polyline points="796.5,228.5 800.7,225.4 811.1,218.1 812.2,216.0" fill="none" stroke="#808080" stroke-width="0.9" stroke-dasharray="2.8,1.3"/>
<polyline points="796.5,231.7 806.9,235.8 805.9,245.2 806.9,248.4 788.1,249.4" fill="none" stroke="#808080" stroke-width="0.9" stroke-dasharray="2.8,1.3"/>
<polyline points="804.8,249.4 805.9,260.9 802.8,265.1 806.9,268.2 827.8,267.8 832.0,264.5 845.6,263.0 846.6,252.6 863.3,250.5 909.3,250.5 911.4,253.6" fill="none" stroke="#808080" stroke-width="0.9" stroke-dasharray="2.8,1.3"/>
<polyline points="804.8,272.4 803.8,278.7 798.6,284.9 798.6,291.2 793.4,295.4 794.4,299.6 790.2,303.7 789.2,339.3" fill="none" stroke="#808080" stroke-width="0.9" stroke-dasharray="2.8,1.3"/>
<polyline points="918.7,221.2 915.6,228.5 914.5,236.9 897.8,241.1 898.9,246.3 905.1,250.5 905.1,260.9 903.0,265.1 902.0,273.4 908.3,276.6 909.3,280.8 895.7,282.4 895.7,292.2 903.0,295.0 932.3,295.4 932.3,303.7 923.9,305.8 923.9,318.4 932.3,320.4 946.9,320.4" fill="none" stroke="#808080" stroke-width="0.9" stroke-dasharray="2.8,1.3"/>
<polyline points="738.0,357.0 750.5,359.1 758.9,366.4 770.4,369.5 776.6,362.2 782.9,360.1" fill="none" stroke="#808080" stroke-width="0.9" stroke-dasharray="2.8,1.3"/>
<polyline points="795.4,341.3 795.4,360.1 819.5,360.1 820.5,366.4 827.8,367.5 834.1,376.0" fill="none" stroke="#808080" stroke-width="0.9" stroke-dasharray="2.8,1.3"/>
<polyline points="795.4,360.1 795.4,373.7 782.9,373.7" fill="none" stroke="#808080" stroke-width="0.9" stroke-dasharray="2.8,1.3"/>
<polyline points="963.4,235.8 1025.0,235.8 1026.1,249.4 1026.1,262.0 1015.6,263.0 1015.6,270.7 1007.3,271.4 1006.2,276.6 1016.7,282.4 1026.1,282.8 1026.7,290.2 1036.5,291.2 1036.5,299.6 1045.9,302.7 1050.1,307.5 1058.4,304.8 1067.9,303.7 1068.5,339.3" fill="none" stroke="#808080" stroke-width="0.9" stroke-dasharray="2.8,1.3"/>
<polyline points="1026.1,250.5 1043.8,250.5 1045.9,259.9 1058.4,261.5" fill="none" stroke="#808080" stroke-width="0.9" stroke-dasharray="2.8,1.3"/>
<polyline points="1043.8,216.0 1052.2,222.3 1045.9,227.5 1039.6,229.6" fill="none" stroke="#808080" stroke-width="0.9" stroke-dasharray="2.8,1.3"/>
<polyline points="1128.4,275.5 1154.5,276.6 1155.6,295.4 1170.0,298.5" fill="none" stroke="#808080" stroke-width="0.9" stroke-dasharray="2.8,1.3"/>
<polyline points="1145.1,250.5 1146.2,260.9 1151.4,268.2 1154.5,276.6" fill="none" stroke="#808080" stroke-width="0.9" stroke-dasharray="2.8,1.3"/>
<polyline points="1155.6,295.4 1150.4,305.8 1139.9,310.0 1138.9,323.6 1128.4,324.6" fill="none" stroke="#808080" stroke-width="0.9" stroke-dasharray="2.8,1.3"/>
<polyline points="1062.6,341.3 1058.4,349.7 1051.1,350.7 1050.1,360.1 1043.8,362.2 1043.4,371.6 1037.6,376.0" fill="none" stroke="#808080" stroke-width="0.9" stroke-dasharray="2.8,1.3"/>
<polyline points="1159.8,234.8 1162.9,228.5 1170.0,226.4" fill="none" stroke="#808080" stroke-width="0.9" stroke-dasharray="2.8,1.3"/>
<polyline points="1170.0,331.9 1182.5,329.9 1185.7,331.9 1220.1,333.0 1220.6,370.6" fill="none" stroke="#808080" stroke-width="0.9" stroke-dasharray="2.8,1.3"/>
<polyline points="1235.8,251.5 1236.8,259.9 1234.8,269.3 1241.0,275.5 1240.0,295.4 1223.9,296.4 1223.3,318.4 1211.8,320.4 1211.8,333.0" fill="none" stroke="#808080" stroke-width="0.9" stroke-dasharray="2.8,1.3"/>
<polyline points="1241.0,275.5 1251.5,278.7 1264.0,276.6 1266.1,273.4 1278.6,276.6 1278.6,295.4 1336.1,295.4" fill="none" stroke="#808080" stroke-width="0.9" stroke-dasharray="2.8,1.3"/>
<polyline points="1270.3,216.0 1269.2,220.2 1280.7,221.2 1291.2,216.0" fill="none" stroke="#808080" stroke-width="0.9" stroke-dasharray="2.8,1.3"/>
<polyline points="1318.3,216.0 1317.3,224.4 1325.6,230.6 1337.1,232.7" fill="none" stroke="#808080" stroke-width="0.9" stroke-dasharray="2.8,1.3"/>
<polyline points="1302.7,250.5 1303.7,240.0 1316.2,234.8 1335.0,232.7" fill="none" stroke="#808080" stroke-width="0.9" stroke-dasharray="2.8,1.3"/>
<polyline points="1241.0,245.2 1270.3,245.2 1270.3,250.5" fill="none" stroke="#808080" stroke-width="0.9" stroke-dasharray="2.8,1.3"/>
<polyline points="1178.4,251.5 1179.4,256.7 1188.8,254.6" fill="none" stroke="#808080" stroke-width="0.9" stroke-dasharray="2.8,1.3"/>
<polyline points="1339.2,251.5 1343.4,259.9 1355.9,264.0 1360.1,274.5 1368.5,280.8 1366.4,291.2 1362.2,299.6 1361.1,310.0" fill="none" stroke="#808080" stroke-width="0.9" stroke-dasharray="2.8,1.3"/>
<polyline points="1353.8,311.0 1354.9,320.4 1345.5,330.9 1341.3,345.5 1351.7,351.8 1360.1,358.1 1369.5,368.5" fill="none" stroke="#808080" stroke-width="0.9" stroke-dasharray="2.8,1.3"/>
<polyline points="1228.5,252.6 1243.1,253.6" fill="none" stroke="#808080" stroke-width="0.9" stroke-dasharray="2.8,1.3"/>
<polyline points="835.1,376.0 844.5,380.2 857.1,378.1" fill="none" stroke="#808080" stroke-width="0.9" stroke-dasharray="2.8,1.3"/>
<polyline points="858.1,432.4 858.1,437.6 850.8,442.8 842.4,444.9 836.2,448.1" fill="none" stroke="#808080" stroke-width="0.9" stroke-dasharray="2.8,1.3"/>
<polyline points="869.6,448.1 875.9,444.9" fill="none" stroke="#808080" stroke-width="0.9" stroke-dasharray="2.8,1.3"/>
<polyline points="884.2,484.6 898.9,485.7 905.1,493.0 909.3,501.3 913.5,509.7 917.7,520.1 916.6,527.5 911.4,528.5" fill="none" stroke="#808080" stroke-width="0.9" stroke-dasharray="2.8,1.3"/>
<polyline points="819.5,526.4 832.0,524.3 838.3,520.1 850.8,512.8 863.3,511.8 873.8,507.6 884.2,506.6" fill="none" stroke="#808080" stroke-width="0.9" stroke-dasharray="2.8,1.3"/>
<polyline points="925.0,476.3 932.3,471.0 954.0,471.0" fill="none" stroke="#808080" stroke-width="0.9" stroke-dasharray="2.8,1.3"/>
<polyline points="864.4,511.8 871.7,516.0 878.0,518.1" fill="none" stroke="#808080" stroke-width="0.9" stroke-dasharray="2.8,1.3"/>
<polyline points="1037.6,408.4 1121.1,407.3 1127.4,404.2 1170.0,400.7" fill="none" stroke="#808080" stroke-width="0.9" stroke-dasharray="2.8,1.3"/>
<polyline points="954.0,471.0 973.8,471.0 974.9,466.9 981.2,465.8 981.6,459.6 1008.3,458.5 1010.4,440.8 1035.5,440.8" fill="none" stroke="#808080" stroke-width="0.9" stroke-dasharray="2.8,1.3"/>
<polyline points="1116.9,491.9 1118.0,513.9 1127.4,519.1 1142.0,520.1 1148.3,536.0" fill="none" stroke="#808080" stroke-width="0.9" stroke-dasharray="2.8,1.3"/>
<polyline points="1038.6,514.9 1048.0,524.3 1058.4,529.5 1062.6,536.0" fill="none" stroke="#808080" stroke-width="0.9" stroke-dasharray="2.8,1.3"/>
<polyline points="1170.0,402.1 1174.2,405.2 1179.4,404.2 1180.4,400.7 1185.7,400.7" fill="none" stroke="#808080" stroke-width="0.9" stroke-dasharray="2.8,1.3"/>
<polyline points="1187.8,456.4 1201.3,456.4 1201.3,449.1 1206.6,449.1 1207.6,438.7 1211.8,433.4 1222.2,428.2 1232.7,425.1 1241.0,429.3 1259.8,430.3 1268.2,434.5 1265.0,439.7 1276.5,437.6 1280.7,441.8 1287.0,439.7 1310.0,441.8" fill="none" stroke="#808080" stroke-width="0.9" stroke-dasharray="2.8,1.3"/>
<polyline points="1275.5,376.0 1283.9,386.4 1291.2,396.9 1288.0,405.2 1294.3,410.5 1292.2,414.6 1296.4,417.8 1296.4,427.2 1312.1,428.2 1312.1,434.5 1310.0,441.8 1308.9,455.4 1301.6,462.7 1294.3,465.8 1293.3,473.1 1301.6,474.2 1304.7,489.9" fill="none" stroke="#808080" stroke-width="0.9" stroke-dasharray="2.8,1.3"/>
<polyline points="1314.1,427.2 1320.4,420.9 1330.9,418.8 1335.0,413.6 1347.6,414.6 1347.6,408.4 1335.0,407.3" fill="none" stroke="#808080" stroke-width="0.9" stroke-dasharray="2.8,1.3"/>
<polyline points="1334.0,376.0 1335.0,382.3 1326.7,391.7" fill="none" stroke="#808080" stroke-width="0.9" stroke-dasharray="2.8,1.3"/>
<polyline points="1235.8,491.9 1230.6,505.5 1235.8,507.6 1232.7,513.9 1242.1,520.1 1236.8,526.4 1222.2,529.5 1222.2,536.0" fill="none" stroke="#808080" stroke-width="0.9" stroke-dasharray="2.8,1.3"/>
<polyline points="963.4,570.5 980.1,573.6 990.6,571.5" fill="none" stroke="#808080" stroke-width="0.9" stroke-dasharray="2.8,1.3"/>
<polyline points="1009.4,546.4 1011.5,555.8 1019.8,556.9" fill="none" stroke="#808080" stroke-width="0.9" stroke-dasharray="2.8,1.3"/>
<polyline points="1057.4,536.0 1058.5,565.2 1076.2,565.2 1084.6,577.8 1088.8,588.2" fill="none" stroke="#808080" stroke-width="0.9" stroke-dasharray="2.8,1.3"/>
<polyline points="1091.9,598.7 1091.9,625.8 1080.4,626.9 1076.2,634.2 1080.4,646.7" fill="none" stroke="#808080" stroke-width="0.9" stroke-dasharray="2.8,1.3"/>
<polyline points="1118.0,570.5 1121.1,556.9 1122.2,546.4 1146.0,546.0" fill="none" stroke="#808080" stroke-width="0.9" stroke-dasharray="2.8,1.3"/>
<polyline points="943.6,625.8 950.9,636.3 959.2,648.8 957.2,656.1" fill="none" stroke="#808080" stroke-width="0.9" stroke-dasharray="2.8,1.3"/>
<polyline points="1021.9,627.9 1017.7,653.0 1016.7,669.7 1018.8,686.0" fill="none" stroke="#808080" stroke-width="0.9" stroke-dasharray="2.8,1.3"/>
<polyline points="1130.0,546.0 1170.7,546.0 1173.9,551.7 1177.0,542.3 1186.4,536.0" fill="none" stroke="#808080" stroke-width="0.9" stroke-dasharray="2.8,1.3"/>
<polyline points="1188.5,554.8 1200.0,553.8 1210.4,561.1 1215.6,576.7 1227.1,582.0 1229.2,591.4 1238.6,598.7 1239.7,607.0" fill="none" stroke="#808080" stroke-width="0.9" stroke-dasharray="2.8,1.3"/>
<polyline points="1210.4,561.1 1211.5,546.4 1221.9,538.1" fill="none" stroke="#808080" stroke-width="0.9" stroke-dasharray="2.8,1.3"/>
<polyline points="1150.9,589.3 1161.3,595.5 1172.8,592.4 1173.9,600.8 1186.4,600.8" fill="none" stroke="#808080" stroke-width="0.9" stroke-dasharray="2.8,1.3"/>
<polyline points="1266.8,610.2 1267.9,592.4 1276.2,591.4 1280.4,585.1 1292.9,583.0 1319.1,582.4 1321.1,586.1 1320.1,600.8 1313.8,611.2 1319.1,619.6 1325.3,625.8 1325.3,637.3 1332.6,639.4" fill="none" stroke="#808080" stroke-width="0.9" stroke-dasharray="2.8,1.3"/>
<polyline points="1322.2,582.0 1331.6,580.9 1332.6,572.6 1328.5,572.6 1339.9,570.5 1338.9,562.1 1334.7,562.1 1333.7,548.5 1346.0,540.2 1355.6,538.1 1367.3,539.8" fill="none" stroke="#808080" stroke-width="0.9" stroke-dasharray="2.8,1.3"/>
<polyline points="1310.7,642.5 1310.1,665.5 1315.9,669.7 1310.7,673.9 1310.1,682.2" fill="none" stroke="#808080" stroke-width="0.9" stroke-dasharray="2.8,1.3"/>
<polyline points="1261.6,649.9 1261.6,662.4 1267.9,659.3 1271.0,655.1" fill="none" stroke="#808080" stroke-width="0.9" stroke-dasharray="2.8,1.3"/>
<polyline points="1148.8,536.0 1148.8,546.0" fill="none" stroke="#808080" stroke-width="0.9" stroke-dasharray="2.8,1.3"/>
<polyline points="772.5,130.6 1384.0,130.6" fill="none" stroke="#6C6C6C" stroke-width="1.35" stroke-linejoin="round"/>
<polyline points="966.5,56.0 974.9,64.4 989.5,71.7 1004.1,83.2 1014.6,89.4 1018.8,104.0 1016.7,112.4 1022.9,118.7 1035.5,130.6" fill="none" stroke="#6C6C6C" stroke-width="1.35" stroke-linejoin="round"/>
<polyline points="1158.3,56.0 1158.3,130.6" fill="none" stroke="#6C6C6C" stroke-width="1.35" stroke-linejoin="round"/>
<polyline points="976.5,130.6 976.5,160.2" fill="none" stroke="#6C6C6C" stroke-width="1.35" stroke-linejoin="round"/>
<polyline points="946.3,130.6 946.3,208.5" fill="none" stroke="#6C6C6C" stroke-width="1.35" stroke-linejoin="round"/>
<polyline points="947.6,279.4 947.6,340.7" fill="none" stroke="#6C6C6C" stroke-width="1.35" stroke-linejoin="round"/>
<polyline points="738.0,213.0 748.0,214.0 760.0,215.5 766.0,218.0" fill="none" stroke="#6C6C6C" stroke-width="1.35" stroke-linejoin="round"/>
<polyline points="876.0,221.4 946.0,220.2" fill="none" stroke="#6C6C6C" stroke-width="1.35" stroke-linejoin="round"/>
<polyline points="738.0,340.7 1127.0,340.7" fill="none" stroke="#6C6C6C" stroke-width="1.35" stroke-linejoin="round"/>
<polyline points="858.1,340.7 858.1,432.0 954.0,499.0 1007.0,536.0 1020.0,545.0" fill="none" stroke="#6C6C6C" stroke-width="1.35" stroke-linejoin="round"/>
<polyline points="1037.1,340.7 1037.1,515.0 1033.0,520.0 1026.0,516.0 1020.0,517.0 1016.0,524.0 1017.0,532.0 1019.8,536.0 1021.9,556.9 1034.4,572.6 1023.0,584.0 1014.6,596.6 1016.4,600.0 1017.5,608.2 1023.4,611.8 1024.0,616.5 1021.0,618.8 1016.4,620.0 1014.0,625.3" fill="none" stroke="#6C6C6C" stroke-width="1.35" stroke-linejoin="round"/>
<polyline points="1037.1,490.9 1384.0,490.9" fill="none" stroke="#6C6C6C" stroke-width="1.35" stroke-linejoin="round"/>
<polyline points="1186.7,370.6 1186.7,661.3" fill="none" stroke="#6C6C6C" stroke-width="1.35" stroke-linejoin="round"/>
<polyline points="1127.0,251.0 1338.2,251.0 1338.2,370.6 1127.0,370.6 1127.0,251.0" fill="none" stroke="#6C6C6C" stroke-width="1.35" stroke-linejoin="round"/>
<polyline points="1338.2,370.6 1384.0,370.6" fill="none" stroke="#6C6C6C" stroke-width="1.35" stroke-linejoin="round"/>
<polyline points="1337.9,130.6 1337.9,251.0" fill="none" stroke="#6C6C6C" stroke-width="1.35" stroke-linejoin="round"/>
<polyline points="1338.0,222.3 1384.0,222.3" fill="none" stroke="#6C6C6C" stroke-width="1.35" stroke-linejoin="round"/>
<polyline points="1338.0,310.6 1384.0,310.6" fill="none" stroke="#6C6C6C" stroke-width="1.35" stroke-linejoin="round"/>
<polyline points="1368.5,490.9 1368.5,505.5" fill="none" stroke="#6C6C6C" stroke-width="1.35" stroke-linejoin="round"/>
<polyline points="1367.4,505.5 1384.0,505.5" fill="none" stroke="#6C6C6C" stroke-width="1.35" stroke-linejoin="round"/>
<polyline points="1367.4,505.5 1367.4,641.5" fill="none" stroke="#6C6C6C" stroke-width="1.35" stroke-linejoin="round"/>
<polyline points="1268.9,641.5 1367.4,641.5" fill="none" stroke="#6C6C6C" stroke-width="1.35" stroke-linejoin="round"/>
<polyline points="1014.0,625.3 1126.4,661.3 1212.5,661.3 1212.5,648.2 1263.7,648.2 1270.0,654.0 1276.2,659.3 1282.0,665.0 1288.8,669.7 1295.0,674.0 1301.3,678.0 1307.0,681.0 1312.8,686.0" fill="none" stroke="#6C6C6C" stroke-width="1.35" stroke-linejoin="round"/>
<polyline points="1016.4,620.0 944.7,625.3" fill="none" stroke="#6C6C6C" stroke-width="1.35" stroke-linejoin="round"/>
<line x1="772.5" y1="130.6" x2="1384" y2="130.6" stroke="#6C6C6C" stroke-width="1.9"/>
<polyline points="976.5,160.2 985.2,171.1 988.0,179.3 998.9,188.9 1012.6,197.2 1027.7,201.3 1026.3,212.2 1022.2,223.2 1022.2,232.8 1030.5,235.5 1040.0,230.1 1046.9,239.6 1055.1,254.7 1064.7,258.8 1071.6,267.1 1088.0,265.7 1104.5,264.3 1115.4,261.6 1120.9,253.4 1126.4,258.8" fill="none" stroke="#6C6C6C" stroke-width="1.05" stroke-linejoin="round"/>
<polyline points="946.3,208.5 949.6,217.7 956.4,224.6 963.3,231.4 961.9,236.9 957.8,245.1 951.0,256.1 942.7,267.1 948.2,272.5 947.6,279.4" fill="none" stroke="#6C6C6C" stroke-width="1.05" stroke-linejoin="round"/>
<line x1="791.3" y1="174.7" x2="921.0" y2="87.8" stroke="#008000" stroke-width="3.4"/>
<line x1="863.2" y1="164.4" x2="917.7" y2="85.5" stroke="#FF0000" stroke-width="1.7"/>
<line x1="921.0" y1="87.8" x2="958.6" y2="184.9" stroke="#008000" stroke-width="0.8"/>
<line x1="791.3" y1="174.7" x2="866.5" y2="166.7" stroke="#008000" stroke-width="1.7"/>
<line x1="760.4" y1="196.0" x2="866.5" y2="166.7" stroke="#008000" stroke-width="6.2"/>
<line x1="760.4" y1="196.0" x2="791.3" y2="174.7" stroke="#008000" stroke-width="5.5"/>
<line x1="866.5" y1="166.7" x2="958.6" y2="184.9" stroke="#008000" stroke-width="3.3"/>
<line x1="866.5" y1="166.7" x2="855.0" y2="227.5" stroke="#008000" stroke-width="4.8"/>
<line x1="958.6" y1="184.9" x2="855.0" y2="227.5" stroke="#008000" stroke-width="3.3"/>
<line x1="921.1" y1="83.3" x2="1096.6" y2="87.8" stroke="#FF0000" stroke-width="1.5"/>
<line x1="920.9" y1="92.3" x2="1096.4" y2="96.8" stroke="#008000" stroke-width="1.8"/>
<line x1="1093.4" y1="94.9" x2="1157.7" y2="170.8" stroke="#FF0000" stroke-width="4.6"/>
<line x1="1099.6" y1="89.7" x2="1163.9" y2="165.6" stroke="#008000" stroke-width="0.8"/>
<line x1="957.8" y1="181.0" x2="1024.6" y2="167.0" stroke="#FF0000" stroke-width="0.8"/>
<line x1="959.4" y1="188.8" x2="1026.2" y2="174.8" stroke="#008000" stroke-width="3.0"/>
<line x1="1025.4" y1="170.9" x2="1160.8" y2="168.2" stroke="#008000" stroke-width="0.8"/>
<line x1="1025.4" y1="170.9" x2="1099.2" y2="232.7" stroke="#008000" stroke-width="3.0"/>
<line x1="1158.3" y1="165.8" x2="1096.7" y2="230.3" stroke="#FF0000" stroke-width="1.7"/>
<line x1="1163.3" y1="170.6" x2="1101.7" y2="235.1" stroke="#008000" stroke-width="0.8"/>
<line x1="1158.6" y1="171.0" x2="1236.1" y2="232.0" stroke="#FF0000" stroke-width="4.0"/>
<line x1="1163.0" y1="165.4" x2="1240.5" y2="226.4" stroke="#008000" stroke-width="0.8"/>
<line x1="958.6" y1="184.9" x2="977.6" y2="286.6" stroke="#008000" stroke-width="0.8"/>
<line x1="779.8" y1="234.8" x2="855.0" y2="227.5" stroke="#008000" stroke-width="3.6"/>
<line x1="760.4" y1="196.0" x2="779.8" y2="234.8" stroke="#008000" stroke-width="3.0"/>
<line x1="779.8" y1="234.8" x2="763.5" y2="300.0" stroke="#008000" stroke-width="3.0"/>
<line x1="775.9" y1="233.8" x2="759.6" y2="299.0" stroke="#FF0000" stroke-width="0.8"/>
<line x1="760.4" y1="196.0" x2="763.5" y2="300.0" stroke="#008000" stroke-width="0.8"/>
<line x1="855.0" y1="227.5" x2="763.5" y2="300.0" stroke="#008000" stroke-width="6.4"/>
<line x1="855.0" y1="227.5" x2="857.5" y2="311.0" stroke="#008000" stroke-width="5.6"/>
<line x1="855.0" y1="227.5" x2="894.3" y2="516.4" stroke="#008000" stroke-width="1.7"/>
<line x1="855.0" y1="227.5" x2="977.6" y2="286.6" stroke="#008000" stroke-width="0.8"/>
<line x1="763.5" y1="300.0" x2="857.5" y2="311.0" stroke="#008000" stroke-width="1.7"/>
<line x1="857.5" y1="311.0" x2="977.6" y2="286.6" stroke="#008000" stroke-width="1.7"/>
<line x1="857.5" y1="311.0" x2="795.0" y2="407.3" stroke="#008000" stroke-width="4.0"/>
<line x1="860.6" y1="307.8" x2="952.7" y2="396.8" stroke="#FF0000" stroke-width="2.0"/>
<line x1="854.4" y1="314.2" x2="946.5" y2="403.2" stroke="#008000" stroke-width="2.0"/>
<line x1="763.5" y1="300.0" x2="795.0" y2="407.3" stroke="#008000" stroke-width="0.8"/>
<line x1="977.9" y1="282.1" x2="1089.7" y2="290.3" stroke="#FF0000" stroke-width="2.0"/>
<line x1="977.3" y1="291.1" x2="1089.1" y2="299.3" stroke="#008000" stroke-width="2.0"/>
<line x1="979.2" y1="290.3" x2="1100.8" y2="236.4" stroke="#FF0000" stroke-width="0.8"/>
<line x1="977.6" y1="286.6" x2="949.6" y2="400.0" stroke="#008000" stroke-width="2.0"/>
<line x1="1085.4" y1="294.2" x2="1095.2" y2="232.1" stroke="#008000" stroke-width="1.0"/>
<line x1="1093.4" y1="295.4" x2="1103.2" y2="233.3" stroke="#FF0000" stroke-width="2.0"/>
<line x1="1099.2" y1="232.7" x2="1238.3" y2="229.2" stroke="#008000" stroke-width="3.5"/>
<line x1="1089.4" y1="294.8" x2="1170.0" y2="343.4" stroke="#008000" stroke-width="2.0"/>
<line x1="1089.4" y1="294.8" x2="1102.7" y2="379.8" stroke="#008000" stroke-width="2.0"/>
<line x1="1170.0" y1="343.4" x2="1102.7" y2="379.8" stroke="#008000" stroke-width="2.0"/>
<line x1="1235.5" y1="227.1" x2="1193.3" y2="282.4" stroke="#FF0000" stroke-width="0.8"/>
<line x1="1241.1" y1="231.3" x2="1198.9" y2="286.6" stroke="#008000" stroke-width="0.8"/>
<line x1="1236.3" y1="232.6" x2="1306.3" y2="274.1" stroke="#FF0000" stroke-width="0.8"/>
<line x1="1240.3" y1="225.8" x2="1310.3" y2="267.3" stroke="#008000" stroke-width="0.8"/>
<line x1="1195.6" y1="280.5" x2="1307.8" y2="266.7" stroke="#FF0000" stroke-width="0.8"/>
<line x1="1196.1" y1="284.5" x2="1283.9" y2="331.5" stroke="#008000" stroke-width="0.8"/>
<line x1="1196.1" y1="284.5" x2="1170.0" y2="343.4" stroke="#008000" stroke-width="0.8"/>
<line x1="1308.3" y1="270.7" x2="1283.9" y2="331.5" stroke="#008000" stroke-width="2.5"/>
<line x1="1283.9" y1="331.5" x2="1170.0" y2="343.4" stroke="#008000" stroke-width="0.8"/>
<line x1="1283.9" y1="331.5" x2="1239.4" y2="406.3" stroke="#008000" stroke-width="0.8"/>
<line x1="1283.9" y1="331.5" x2="1310.0" y2="396.3" stroke="#008000" stroke-width="2.0"/>
<line x1="1283.9" y1="331.5" x2="1355.9" y2="437.0" stroke="#008000" stroke-width="2.0"/>
<line x1="1172.7" y1="340.4" x2="1242.1" y2="403.3" stroke="#FF0000" stroke-width="0.8"/>
<line x1="794.8" y1="402.8" x2="949.4" y2="395.5" stroke="#008000" stroke-width="0.8"/>
<line x1="795.2" y1="411.8" x2="949.8" y2="404.5" stroke="#FF0000" stroke-width="2.0"/>
<line x1="795.0" y1="407.3" x2="800.0" y2="475.9" stroke="#008000" stroke-width="5.0"/>
<line x1="800.0" y1="475.9" x2="856.4" y2="475.6" stroke="#008000" stroke-width="4.0"/>
<line x1="856.4" y1="475.6" x2="859.6" y2="539.8" stroke="#008000" stroke-width="3.5"/>
<line x1="856.4" y1="475.6" x2="894.3" y2="516.4" stroke="#008000" stroke-width="2.0"/>
<line x1="894.3" y1="516.4" x2="905.5" y2="577.8" stroke="#008000" stroke-width="2.0"/>
<line x1="949.6" y1="400.0" x2="956.2" y2="534.4" stroke="#008000" stroke-width="0.8"/>
<line x1="895.6" y1="512.1" x2="957.5" y2="530.1" stroke="#FF0000" stroke-width="0.8"/>
<line x1="949.6" y1="400.0" x2="1113.8" y2="448.5" stroke="#008000" stroke-width="0.8"/>
<line x1="1098.3" y1="380.5" x2="1109.4" y2="449.2" stroke="#FF0000" stroke-width="0.8"/>
<line x1="1107.1" y1="379.1" x2="1118.2" y2="447.8" stroke="#008000" stroke-width="3.0"/>
<line x1="1102.7" y1="379.8" x2="1239.4" y2="406.3" stroke="#008000" stroke-width="2.0"/>
<line x1="996.8" y1="490.5" x2="1113.8" y2="448.5" stroke="#008000" stroke-width="0.8"/>
<line x1="956.2" y1="534.4" x2="1113.8" y2="448.5" stroke="#008000" stroke-width="2.0"/>
<line x1="1113.8" y1="448.5" x2="1091.2" y2="530.6" stroke="#008000" stroke-width="0.8"/>
<line x1="1113.8" y1="448.5" x2="1181.5" y2="517.0" stroke="#008000" stroke-width="2.0"/>
<line x1="996.8" y1="490.5" x2="1091.2" y2="530.6" stroke="#008000" stroke-width="2.0"/>
<line x1="1091.2" y1="530.6" x2="1181.5" y2="517.0" stroke="#008000" stroke-width="2.5"/>
<line x1="996.8" y1="490.5" x2="1007.3" y2="577.8" stroke="#008000" stroke-width="0.8"/>
<line x1="996.8" y1="490.5" x2="1056.0" y2="604.5" stroke="#008000" stroke-width="2.0"/>
<line x1="996.8" y1="490.5" x2="1038.6" y2="545.4" stroke="#008000" stroke-width="2.0"/>
<line x1="1239.4" y1="406.3" x2="1310.0" y2="396.3" stroke="#008000" stroke-width="2.0"/>
<line x1="1239.4" y1="406.3" x2="1247.3" y2="463.7" stroke="#008000" stroke-width="2.0"/>
<line x1="1310.0" y1="396.3" x2="1355.9" y2="437.0" stroke="#008000" stroke-width="4.0"/>
<line x1="1247.3" y1="463.7" x2="1355.9" y2="437.0" stroke="#008000" stroke-width="0.8"/>
<line x1="1247.3" y1="463.7" x2="1181.5" y2="517.0" stroke="#008000" stroke-width="2.0"/>
<line x1="1355.9" y1="437.0" x2="1285.2" y2="541.8" stroke="#008000" stroke-width="0.8"/>
<line x1="1181.5" y1="517.0" x2="1285.2" y2="541.8" stroke="#008000" stroke-width="2.0"/>
<line x1="1181.5" y1="517.0" x2="1155.5" y2="569.4" stroke="#008000" stroke-width="2.0"/>
<line x1="859.6" y1="539.8" x2="956.2" y2="534.4" stroke="#008000" stroke-width="3.2"/>
<line x1="905.5" y1="577.8" x2="956.2" y2="534.4" stroke="#008000" stroke-width="5.0"/>
<line x1="952.4" y1="611.4" x2="989.0" y2="658.4" stroke="#FF0000" stroke-width="4.0"/>
<line x1="957.9" y1="607.1" x2="994.5" y2="654.1" stroke="#008000" stroke-width="0.8"/>
<line x1="943.6" y1="582.9" x2="992.3" y2="601.7" stroke="#FF0000" stroke-width="2.0"/>
<line x1="941.4" y1="588.5" x2="990.1" y2="607.3" stroke="#008000" stroke-width="2.0"/>
<line x1="942.5" y1="585.7" x2="1007.3" y2="577.8" stroke="#008000" stroke-width="1.5"/>
<line x1="991.2" y1="600.5" x2="1056.0" y2="600.5" stroke="#008000" stroke-width="2.0"/>
<line x1="991.2" y1="606.5" x2="1056.0" y2="606.5" stroke="#008000" stroke-width="2.0"/>
<line x1="1007.3" y1="577.8" x2="1056.0" y2="604.5" stroke="#008000" stroke-width="2.0"/>
<line x1="1040.5" y1="544.8" x2="1057.9" y2="603.9" stroke="#008000" stroke-width="2.0"/>
<line x1="1034.8" y1="546.5" x2="1052.2" y2="605.6" stroke="#008000" stroke-width="0.8"/>
<line x1="1038.6" y1="545.4" x2="1007.3" y2="577.8" stroke="#008000" stroke-width="2.0"/>
<line x1="1091.2" y1="530.6" x2="1056.0" y2="604.5" stroke="#008000" stroke-width="2.0"/>
<line x1="1091.2" y1="530.6" x2="1112.4" y2="595.1" stroke="#008000" stroke-width="2.0"/>
<line x1="1091.2" y1="530.6" x2="1038.6" y2="545.4" stroke="#008000" stroke-width="0.8"/>
<line x1="1091.2" y1="530.6" x2="1155.5" y2="569.4" stroke="#008000" stroke-width="0.8"/>
<line x1="1055.3" y1="600.6" x2="1111.7" y2="591.2" stroke="#008000" stroke-width="4.0"/>
<line x1="1056.7" y1="608.4" x2="1113.1" y2="599.0" stroke="#FF0000" stroke-width="2.0"/>
<line x1="1056.0" y1="604.5" x2="1139.2" y2="630.0" stroke="#008000" stroke-width="2.0"/>
<line x1="1112.4" y1="595.1" x2="1155.5" y2="569.4" stroke="#008000" stroke-width="2.0"/>
<line x1="990.6" y1="657.2" x2="1056.0" y2="604.5" stroke="#008000" stroke-width="0.8"/>
<line x1="956.2" y1="534.4" x2="1007.3" y2="577.8" stroke="#008000" stroke-width="0.8"/>
<line x1="1155.5" y1="569.4" x2="1248.4" y2="629.0" stroke="#008000" stroke-width="0.8"/>
<line x1="1139.2" y1="630.0" x2="1248.4" y2="629.0" stroke="#008000" stroke-width="0.8"/>
<line x1="1248.4" y1="629.0" x2="1285.2" y2="541.8" stroke="#008000" stroke-width="0.8"/>
<line x1="1155.5" y1="569.4" x2="1139.2" y2="630.0" stroke="#008000" stroke-width="2.5"/>
<circle cx="921.0" cy="87.8" r="23.4" fill="#4169E1"/>
<path d="M921.00,87.80 L944.40,87.39 A23.40,23.40 0 0 0 944.17,84.54 Z" fill="#008000" stroke="#6E6E6E" stroke-width="0.75" stroke-linejoin="round"/>
<path d="M921.00,87.80 L944.17,84.54 A23.40,23.40 0 0 0 941.66,76.81 Z" fill="#7FFFD4" stroke="#6E6E6E" stroke-width="0.75" stroke-linejoin="round"/>
<path d="M921.00,87.80 L941.66,76.81 A23.40,23.40 0 0 0 934.75,68.87 Z" fill="#FFD700" stroke="#6E6E6E" stroke-width="0.75" stroke-linejoin="round"/>
<path d="M921.00,87.80 L934.75,68.87 A23.40,23.40 0 0 0 898.11,92.67 Z" fill="#00BFFF" stroke="#6E6E6E" stroke-width="0.75" stroke-linejoin="round"/>
<path d="M921.00,87.80 L898.11,92.67 A23.40,23.40 0 0 0 944.40,87.39 Z" fill="#4169E1" stroke="#6E6E6E" stroke-width="0.75" stroke-linejoin="round"/>
<circle cx="921.0" cy="87.8" r="8.9" fill="#F768A1" stroke="#6E6E6E" stroke-width="0.9"/>
<circle cx="866.5" cy="166.7" r="23.5" fill="#4169E1"/>
<path d="M866.50,166.70 L890.00,166.29 A23.50,23.50 0 0 0 889.71,163.02 Z" fill="#7FFFD4" stroke="#6E6E6E" stroke-width="0.75" stroke-linejoin="round"/>
<path d="M866.50,166.70 L889.71,163.02 A23.50,23.50 0 1 0 890.00,166.29 Z" fill="#4169E1" stroke="#6E6E6E" stroke-width="0.75" stroke-linejoin="round"/>
<circle cx="866.5" cy="166.7" r="8.9" fill="#F768A1" stroke="#6E6E6E" stroke-width="0.9"/>
<circle cx="791.3" cy="174.7" r="16.4" fill="#7FFFD4"/>
<path d="M791.30,174.70 L807.69,175.27 A16.40,16.40 0 0 0 806.28,168.03 Z" fill="#008000" stroke="#6E6E6E" stroke-width="0.75" stroke-linejoin="round"/>
<path d="M791.30,174.70 L806.28,168.03 A16.40,16.40 0 1 0 807.69,175.27 Z" fill="#7FFFD4" stroke="#6E6E6E" stroke-width="0.75" stroke-linejoin="round"/>
<circle cx="791.3" cy="174.7" r="8.9" fill="#FCC5C0" stroke="#6E6E6E" stroke-width="0.9"/>
<circle cx="760.4" cy="196.0" r="16.6" fill="#00BFFF"/>
<path d="M760.40,196.00 L776.98,195.13 A16.60,16.60 0 0 0 776.00,190.32 Z" fill="#008000" stroke="#6E6E6E" stroke-width="0.75" stroke-linejoin="round"/>
<path d="M760.40,196.00 L776.00,190.32 A16.60,16.60 0 0 0 743.96,198.31 Z" fill="#4169E1" stroke="#6E6E6E" stroke-width="0.75" stroke-linejoin="round"/>
<path d="M760.40,196.00 L743.96,198.31 A16.60,16.60 0 0 0 776.98,195.13 Z" fill="#00BFFF" stroke="#6E6E6E" stroke-width="0.75" stroke-linejoin="round"/>
<circle cx="760.4" cy="196.0" r="8.9" fill="#FCC5C0" stroke="#6E6E6E" stroke-width="0.9"/>
<circle cx="958.6" cy="184.9" r="23.2" fill="#00BFFF"/>
<path d="M958.60,184.90 L981.79,184.09 A23.20,23.20 0 0 0 980.11,176.21 Z" fill="#FFD700" stroke="#6E6E6E" stroke-width="0.75" stroke-linejoin="round"/>
<path d="M958.60,184.90 L980.11,176.21 A23.20,23.20 0 0 0 937.41,175.46 Z" fill="#4169E1" stroke="#6E6E6E" stroke-width="0.75" stroke-linejoin="round"/>
<path d="M958.60,184.90 L937.41,175.46 A23.20,23.20 0 1 0 981.79,184.09 Z" fill="#00BFFF" stroke="#6E6E6E" stroke-width="0.75" stroke-linejoin="round"/>
<circle cx="958.6" cy="184.9" r="8.9" fill="#F768A1" stroke="#6E6E6E" stroke-width="0.9"/>
<circle cx="855.0" cy="227.5" r="23.5" fill="#00BFFF"/>
<path d="M855.00,227.50 L878.50,227.50 A23.50,23.50 0 0 0 878.44,225.86 Z" fill="#008000" stroke="#6E6E6E" stroke-width="0.75" stroke-linejoin="round"/>
<path d="M855.00,227.50 L878.44,225.86 A23.50,23.50 0 0 0 875.75,216.47 Z" fill="#8A2BE2" stroke="#6E6E6E" stroke-width="0.75" stroke-linejoin="round"/>
<path d="M855.00,227.50 L875.75,216.47 A23.50,23.50 0 0 0 855.82,204.01 Z" fill="#FFD700" stroke="#6E6E6E" stroke-width="0.75" stroke-linejoin="round"/>
<path d="M855.00,227.50 L855.82,204.01 A23.50,23.50 0 0 0 836.48,241.97 Z" fill="#4169E1" stroke="#6E6E6E" stroke-width="0.75" stroke-linejoin="round"/>
<path d="M855.00,227.50 L836.48,241.97 A23.50,23.50 0 0 0 878.50,227.50 Z" fill="#00BFFF" stroke="#6E6E6E" stroke-width="0.75" stroke-linejoin="round"/>
<circle cx="855.0" cy="227.5" r="8.9" fill="#F768A1" stroke="#6E6E6E" stroke-width="0.9"/>
<circle cx="1096.5" cy="92.3" r="33.4" fill="#00BFFF"/>
<path d="M1096.50,92.30 L1129.89,91.48 A33.40,33.40 0 0 0 1129.66,88.29 Z" fill="#4169E1" stroke="#6E6E6E" stroke-width="0.75" stroke-linejoin="round"/>
<path d="M1096.50,92.30 L1129.66,88.29 A33.40,33.40 0 0 0 1098.83,58.98 Z" fill="#FFD700" stroke="#6E6E6E" stroke-width="0.75" stroke-linejoin="round"/>
<path d="M1096.50,92.30 L1098.83,58.98 A33.40,33.40 0 0 0 1063.55,86.84 Z" fill="#7FFFD4" stroke="#6E6E6E" stroke-width="0.75" stroke-linejoin="round"/>
<path d="M1096.50,92.30 L1063.55,86.84 A33.40,33.40 0 1 0 1129.89,91.48 Z" fill="#00BFFF" stroke="#6E6E6E" stroke-width="0.75" stroke-linejoin="round"/>
<circle cx="1096.5" cy="92.3" r="8.9" fill="#49006A" stroke="#6E6E6E" stroke-width="0.9"/>
<circle cx="1025.4" cy="170.9" r="16.7" fill="#4169E1"/>
<path d="M1025.40,170.90 L1042.10,170.90 A16.70,16.70 0 0 0 1033.24,156.15 Z" fill="#7FFFD4" stroke="#6E6E6E" stroke-width="0.75" stroke-linejoin="round"/>
<path d="M1025.40,170.90 L1033.24,156.15 A16.70,16.70 0 0 0 1008.70,170.90 Z" fill="#FFD700" stroke="#6E6E6E" stroke-width="0.75" stroke-linejoin="round"/>
<path d="M1025.40,170.90 L1008.70,170.90 A16.70,16.70 0 0 0 1042.10,170.90 Z" fill="#4169E1" stroke="#6E6E6E" stroke-width="0.75" stroke-linejoin="round"/>
<circle cx="1025.4" cy="170.9" r="8.9" fill="#FCC5C0" stroke="#6E6E6E" stroke-width="0.9"/>
<circle cx="1160.8" cy="168.2" r="16.9" fill="#00BFFF"/>
<path d="M1160.80,168.20 L1177.68,167.32 A16.90,16.90 0 0 0 1177.54,165.85 Z" fill="#008000" stroke="#6E6E6E" stroke-width="0.75" stroke-linejoin="round"/>
<path d="M1160.80,168.20 L1177.54,165.85 A16.90,16.90 0 0 0 1175.13,159.24 Z" fill="#7FFFD4" stroke="#6E6E6E" stroke-width="0.75" stroke-linejoin="round"/>
<path d="M1160.80,168.20 L1175.13,159.24 A16.90,16.90 0 0 0 1152.87,153.28 Z" fill="#4169E1" stroke="#6E6E6E" stroke-width="0.75" stroke-linejoin="round"/>
<path d="M1160.80,168.20 L1152.87,153.28 A16.90,16.90 0 1 0 1177.68,167.32 Z" fill="#00BFFF" stroke="#6E6E6E" stroke-width="0.75" stroke-linejoin="round"/>
<circle cx="1160.8" cy="168.2" r="8.9" fill="#F768A1" stroke="#6E6E6E" stroke-width="0.9"/>
<circle cx="779.8" cy="234.8" r="16.7" fill="#4169E1"/>
<path d="M779.80,234.80 L796.48,235.67 A16.70,16.70 0 0 0 796.44,233.34 Z" fill="#008000" stroke="#6E6E6E" stroke-width="0.75" stroke-linejoin="round"/>
<path d="M779.80,234.80 L796.44,233.34 A16.70,16.70 0 0 0 763.16,236.26 Z" fill="#00BFFF" stroke="#6E6E6E" stroke-width="0.75" stroke-linejoin="round"/>
<path d="M779.80,234.80 L763.16,236.26 A16.70,16.70 0 0 0 796.48,235.67 Z" fill="#4169E1" stroke="#6E6E6E" stroke-width="0.75" stroke-linejoin="round"/>
<circle cx="779.8" cy="234.8" r="8.9" fill="#FCC5C0" stroke="#6E6E6E" stroke-width="0.9"/>
<circle cx="763.5" cy="300.0" r="29.0" fill="#FFD700"/>
<path d="M763.50,300.00 L792.50,300.00 A29.00,29.00 0 0 0 792.22,295.96 Z" fill="#4169E1" stroke="#6E6E6E" stroke-width="0.75" stroke-linejoin="round"/>
<path d="M763.50,300.00 L792.22,295.96 A29.00,29.00 0 0 0 772.46,272.42 Z" fill="#7FFFD4" stroke="#6E6E6E" stroke-width="0.75" stroke-linejoin="round"/>
<path d="M763.50,300.00 L772.46,272.42 A29.00,29.00 0 0 0 737.89,286.39 Z" fill="#00BFFF" stroke="#6E6E6E" stroke-width="0.75" stroke-linejoin="round"/>
<path d="M763.50,300.00 L737.89,286.39 A29.00,29.00 0 1 0 792.50,300.00 Z" fill="#FFD700" stroke="#6E6E6E" stroke-width="0.75" stroke-linejoin="round"/>
<circle cx="763.5" cy="300.0" r="8.9" fill="#F768A1" stroke="#6E6E6E" stroke-width="0.9"/>
<circle cx="857.5" cy="311.0" r="16.7" fill="#FFD700"/>
<path d="M857.50,311.00 L874.20,311.00 A16.70,16.70 0 0 0 869.91,299.83 Z" fill="#7FFFD4" stroke="#6E6E6E" stroke-width="0.75" stroke-linejoin="round"/>
<path d="M857.50,311.00 L869.91,299.83 A16.70,16.70 0 0 0 841.37,306.68 Z" fill="#00BFFF" stroke="#6E6E6E" stroke-width="0.75" stroke-linejoin="round"/>
<path d="M857.50,311.00 L841.37,306.68 A16.70,16.70 0 1 0 874.20,311.00 Z" fill="#FFD700" stroke="#6E6E6E" stroke-width="0.75" stroke-linejoin="round"/>
<circle cx="857.5" cy="311.0" r="8.9" fill="#FCC5C0" stroke="#6E6E6E" stroke-width="0.9"/>
<circle cx="949.6" cy="400.0" r="28.9" fill="#FFD700"/>
<path d="M949.60,400.00 L978.50,400.00 A28.90,28.90 0 0 0 931.81,377.23 Z" fill="#7FFFD4" stroke="#6E6E6E" stroke-width="0.75" stroke-linejoin="round"/>
<path d="M949.60,400.00 L931.81,377.23 A28.90,28.90 0 1 0 978.50,400.00 Z" fill="#FFD700" stroke="#6E6E6E" stroke-width="0.75" stroke-linejoin="round"/>
<circle cx="949.6" cy="400.0" r="8.9" fill="#F768A1" stroke="#6E6E6E" stroke-width="0.9"/>
<circle cx="977.6" cy="286.6" r="23.3" fill="#FFD700"/>
<path d="M977.60,286.60 L1000.90,286.60 A23.30,23.30 0 0 0 994.08,270.12 Z" fill="#4169E1" stroke="#6E6E6E" stroke-width="0.75" stroke-linejoin="round"/>
<path d="M977.60,286.60 L994.08,270.12 A23.30,23.30 0 0 0 960.56,270.71 Z" fill="#7FFFD4" stroke="#6E6E6E" stroke-width="0.75" stroke-linejoin="round"/>
<path d="M977.60,286.60 L960.56,270.71 A23.30,23.30 0 1 0 1000.90,286.60 Z" fill="#FFD700" stroke="#6E6E6E" stroke-width="0.75" stroke-linejoin="round"/>
<circle cx="977.6" cy="286.6" r="8.9" fill="#AE017E" stroke="#6E6E6E" stroke-width="0.9"/>
<circle cx="1089.4" cy="294.8" r="23.3" fill="#FFD700"/>
<path d="M1089.40,294.80 L1112.70,294.80 A23.30,23.30 0 0 0 1112.19,289.96 Z" fill="#4169E1" stroke="#6E6E6E" stroke-width="0.75" stroke-linejoin="round"/>
<path d="M1089.40,294.80 L1112.19,289.96 A23.30,23.30 0 0 0 1086.16,271.73 Z" fill="#00BFFF" stroke="#6E6E6E" stroke-width="0.75" stroke-linejoin="round"/>
<path d="M1089.40,294.80 L1086.16,271.73 A23.30,23.30 0 0 0 1066.33,298.04 Z" fill="#7FFFD4" stroke="#6E6E6E" stroke-width="0.75" stroke-linejoin="round"/>
<path d="M1089.40,294.80 L1066.33,298.04 A23.30,23.30 0 0 0 1112.70,294.80 Z" fill="#FFD700" stroke="#6E6E6E" stroke-width="0.75" stroke-linejoin="round"/>
<circle cx="1089.4" cy="294.8" r="8.9" fill="#F768A1" stroke="#6E6E6E" stroke-width="0.9"/>
<circle cx="1099.2" cy="232.7" r="16.7" fill="#00BFFF"/>
<path d="M1099.20,232.70 L1115.90,232.70 A16.70,16.70 0 0 0 1115.84,231.24 Z" fill="#008000" stroke="#6E6E6E" stroke-width="0.75" stroke-linejoin="round"/>
<path d="M1099.20,232.70 L1115.84,231.24 A16.70,16.70 0 0 0 1114.34,225.64 Z" fill="#4169E1" stroke="#6E6E6E" stroke-width="0.75" stroke-linejoin="round"/>
<path d="M1099.20,232.70 L1114.34,225.64 A16.70,16.70 0 0 0 1106.26,217.56 Z" fill="#FFD700" stroke="#6E6E6E" stroke-width="0.75" stroke-linejoin="round"/>
<path d="M1099.20,232.70 L1106.26,217.56 A16.70,16.70 0 1 0 1115.90,232.70 Z" fill="#00BFFF" stroke="#6E6E6E" stroke-width="0.75" stroke-linejoin="round"/>
<circle cx="1099.2" cy="232.7" r="8.9" fill="#FCC5C0" stroke="#6E6E6E" stroke-width="0.9"/>
<circle cx="1170.0" cy="343.4" r="16.7" fill="#00BFFF"/>
<path d="M1170.00,343.40 L1186.70,343.40 A16.70,16.70 0 0 0 1182.79,332.67 Z" fill="#7FFFD4" stroke="#6E6E6E" stroke-width="0.75" stroke-linejoin="round"/>
<path d="M1170.00,343.40 L1182.79,332.67 A16.70,16.70 0 1 0 1186.70,343.40 Z" fill="#00BFFF" stroke="#6E6E6E" stroke-width="0.75" stroke-linejoin="round"/>
<circle cx="1170.0" cy="343.4" r="8.9" fill="#49006A" stroke="#6E6E6E" stroke-width="0.9"/>
<circle cx="1102.7" cy="379.8" r="16.7" fill="#FFD700"/>
<path d="M1102.70,379.80 L1119.40,379.80 A16.70,16.70 0 0 0 1119.34,378.34 Z" fill="#008000" stroke="#6E6E6E" stroke-width="0.75" stroke-linejoin="round"/>
<path d="M1102.70,379.80 L1119.34,378.34 A16.70,16.70 0 0 0 1118.83,375.48 Z" fill="#4169E1" stroke="#6E6E6E" stroke-width="0.75" stroke-linejoin="round"/>
<path d="M1102.70,379.80 L1118.83,375.48 A16.70,16.70 0 0 0 1098.38,363.67 Z" fill="#7FFFD4" stroke="#6E6E6E" stroke-width="0.75" stroke-linejoin="round"/>
<path d="M1102.70,379.80 L1098.38,363.67 A16.70,16.70 0 1 0 1119.40,379.80 Z" fill="#FFD700" stroke="#6E6E6E" stroke-width="0.75" stroke-linejoin="round"/>
<circle cx="1102.7" cy="379.8" r="8.9" fill="#49006A" stroke="#6E6E6E" stroke-width="0.9"/>
<circle cx="1238.3" cy="229.2" r="16.5" fill="#00BFFF"/>
<path d="M1238.30,229.20 L1254.80,229.20 A16.50,16.50 0 0 0 1234.03,213.26 Z" fill="#4169E1" stroke="#6E6E6E" stroke-width="0.75" stroke-linejoin="round"/>
<path d="M1238.30,229.20 L1234.03,213.26 A16.50,16.50 0 1 0 1254.80,229.20 Z" fill="#00BFFF" stroke="#6E6E6E" stroke-width="0.75" stroke-linejoin="round"/>
<circle cx="1238.3" cy="229.2" r="8.9" fill="#FCC5C0" stroke="#6E6E6E" stroke-width="0.9"/>
<circle cx="1196.1" cy="284.5" r="16.7" fill="#FFD700"/>
<path d="M1196.10,284.50 L1212.80,284.50 A16.70,16.70 0 0 0 1212.74,283.04 Z" fill="#4169E1" stroke="#6E6E6E" stroke-width="0.75" stroke-linejoin="round"/>
<path d="M1196.10,284.50 L1212.74,283.04 A16.70,16.70 0 0 0 1184.29,272.69 Z" fill="#7FFFD4" stroke="#6E6E6E" stroke-width="0.75" stroke-linejoin="round"/>
<path d="M1196.10,284.50 L1184.29,272.69 A16.70,16.70 0 1 0 1212.80,284.50 Z" fill="#FFD700" stroke="#6E6E6E" stroke-width="0.75" stroke-linejoin="round"/>
<circle cx="1196.1" cy="284.5" r="8.9" fill="#F768A1" stroke="#6E6E6E" stroke-width="0.9"/>
<circle cx="1308.3" cy="270.7" r="16.7" fill="#FFD700"/>
<path d="M1308.30,270.70 L1325.00,270.70 A16.70,16.70 0 0 0 1298.72,257.02 Z" fill="#7FFFD4" stroke="#6E6E6E" stroke-width="0.75" stroke-linejoin="round"/>
<path d="M1308.30,270.70 L1298.72,257.02 A16.70,16.70 0 1 0 1325.00,270.70 Z" fill="#FFD700" stroke="#6E6E6E" stroke-width="0.75" stroke-linejoin="round"/>
<circle cx="1308.3" cy="270.7" r="8.9" fill="#F768A1" stroke="#6E6E6E" stroke-width="0.9"/>
<circle cx="1283.9" cy="331.5" r="16.7" fill="#00BFFF"/>
<path d="M1283.90,331.50 L1300.60,331.50 A16.70,16.70 0 0 0 1300.35,328.60 Z" fill="#4169E1" stroke="#6E6E6E" stroke-width="0.75" stroke-linejoin="round"/>
<path d="M1283.90,331.50 L1300.35,328.60 A16.70,16.70 0 0 0 1291.74,316.75 Z" fill="#7FFFD4" stroke="#6E6E6E" stroke-width="0.75" stroke-linejoin="round"/>
<path d="M1283.90,331.50 L1291.74,316.75 A16.70,16.70 0 0 0 1267.20,331.50 Z" fill="#FFD700" stroke="#6E6E6E" stroke-width="0.75" stroke-linejoin="round"/>
<path d="M1283.90,331.50 L1267.20,331.50 A16.70,16.70 0 0 0 1300.60,331.50 Z" fill="#00BFFF" stroke="#6E6E6E" stroke-width="0.75" stroke-linejoin="round"/>
<circle cx="1283.9" cy="331.5" r="8.9" fill="#AE017E" stroke="#6E6E6E" stroke-width="0.9"/>
<circle cx="795.0" cy="407.3" r="28.9" fill="#FFD700"/>
<path d="M795.00,407.30 L823.90,407.30 A28.90,28.90 0 0 0 822.92,399.82 Z" fill="#00BFFF" stroke="#6E6E6E" stroke-width="0.75" stroke-linejoin="round"/>
<path d="M795.00,407.30 L822.92,399.82 A28.90,28.90 0 0 0 811.58,383.63 Z" fill="#4169E1" stroke="#6E6E6E" stroke-width="0.75" stroke-linejoin="round"/>
<path d="M795.00,407.30 L811.58,383.63 A28.90,28.90 0 0 0 767.08,399.82 Z" fill="#7FFFD4" stroke="#6E6E6E" stroke-width="0.75" stroke-linejoin="round"/>
<path d="M795.00,407.30 L767.08,399.82 A28.90,28.90 0 1 0 823.90,407.30 Z" fill="#FFD700" stroke="#6E6E6E" stroke-width="0.75" stroke-linejoin="round"/>
<circle cx="795.0" cy="407.3" r="8.9" fill="#F768A1" stroke="#6E6E6E" stroke-width="0.9"/>
<circle cx="800.0" cy="475.9" r="23.7" fill="#7FFFD4"/>
<path d="M800.00,475.90 L823.70,475.90 A23.70,23.70 0 0 0 822.54,468.58 Z" fill="#008000" stroke="#6E6E6E" stroke-width="0.75" stroke-linejoin="round"/>
<path d="M800.00,475.90 L822.54,468.58 A23.70,23.70 0 0 0 776.53,479.20 Z" fill="#FFD700" stroke="#6E6E6E" stroke-width="0.75" stroke-linejoin="round"/>
<path d="M800.00,475.90 L776.53,479.20 A23.70,23.70 0 0 0 823.70,475.90 Z" fill="#7FFFD4" stroke="#6E6E6E" stroke-width="0.75" stroke-linejoin="round"/>
<circle cx="800.0" cy="475.9" r="8.9" fill="#F768A1" stroke="#6E6E6E" stroke-width="0.9"/>
<circle cx="856.4" cy="475.6" r="28.9" fill="#FFD700"/>
<path d="M856.40,475.60 L885.30,475.60 A28.90,28.90 0 0 0 885.26,474.09 Z" fill="#008000" stroke="#6E6E6E" stroke-width="0.75" stroke-linejoin="round"/>
<path d="M856.40,475.60 L885.26,474.09 A28.90,28.90 0 0 0 879.17,457.81 Z" fill="#4169E1" stroke="#6E6E6E" stroke-width="0.75" stroke-linejoin="round"/>
<path d="M856.40,475.60 L879.17,457.81 A28.90,28.90 0 0 0 831.37,461.15 Z" fill="#7FFFD4" stroke="#6E6E6E" stroke-width="0.75" stroke-linejoin="round"/>
<path d="M856.40,475.60 L831.37,461.15 A28.90,28.90 0 1 0 885.30,475.60 Z" fill="#FFD700" stroke="#6E6E6E" stroke-width="0.75" stroke-linejoin="round"/>
<circle cx="856.4" cy="475.6" r="8.9" fill="#F768A1" stroke="#6E6E6E" stroke-width="0.9"/>
<circle cx="818.4" cy="447.0" r="16.3" fill="#7FFFD4"/>
<path d="M818.40,447.00 L834.70,447.00 A16.30,16.30 0 0 0 833.17,440.11 Z" fill="#008000" stroke="#6E6E6E" stroke-width="0.75" stroke-linejoin="round"/>
<path d="M818.40,447.00 L833.17,440.11 A16.30,16.30 0 0 0 821.23,430.95 Z" fill="#4169E1" stroke="#6E6E6E" stroke-width="0.75" stroke-linejoin="round"/>
<path d="M818.40,447.00 L821.23,430.95 A16.30,16.30 0 1 0 834.70,447.00 Z" fill="#7FFFD4" stroke="#6E6E6E" stroke-width="0.75" stroke-linejoin="round"/>
<circle cx="818.4" cy="447.0" r="8.9" fill="#F768A1" stroke="#6E6E6E" stroke-width="0.9"/>
<circle cx="894.3" cy="516.4" r="16.7" fill="#FFD700"/>
<path d="M894.30,516.40 L911.00,516.40 A16.70,16.70 0 0 0 910.94,514.94 Z" fill="#008000" stroke="#6E6E6E" stroke-width="0.75" stroke-linejoin="round"/>
<path d="M894.30,516.40 L910.94,514.94 A16.70,16.70 0 0 0 882.49,504.59 Z" fill="#7FFFD4" stroke="#6E6E6E" stroke-width="0.75" stroke-linejoin="round"/>
<path d="M894.30,516.40 L882.49,504.59 A16.70,16.70 0 1 0 911.00,516.40 Z" fill="#FFD700" stroke="#6E6E6E" stroke-width="0.75" stroke-linejoin="round"/>
<circle cx="894.3" cy="516.4" r="8.9" fill="#F768A1" stroke="#6E6E6E" stroke-width="0.9"/>
<circle cx="859.6" cy="539.8" r="23.6" fill="#FFD700"/>
<path d="M859.60,539.80 L883.20,539.80 A23.60,23.60 0 0 0 883.19,538.98 Z" fill="#008000" stroke="#6E6E6E" stroke-width="0.75" stroke-linejoin="round"/>
<path d="M859.60,539.80 L883.19,538.98 A23.60,23.60 0 0 0 847.80,519.36 Z" fill="#7FFFD4" stroke="#6E6E6E" stroke-width="0.75" stroke-linejoin="round"/>
<path d="M859.60,539.80 L847.80,519.36 A23.60,23.60 0 1 0 883.20,539.80 Z" fill="#FFD700" stroke="#6E6E6E" stroke-width="0.75" stroke-linejoin="round"/>
<circle cx="859.6" cy="539.8" r="8.9" fill="#F768A1" stroke="#6E6E6E" stroke-width="0.9"/>
<circle cx="956.2" cy="534.4" r="33.2" fill="#FFD700"/>
<path d="M956.20,534.40 L989.40,534.40 A33.20,33.20 0 0 0 989.35,532.66 Z" fill="#008000" stroke="#6E6E6E" stroke-width="0.75" stroke-linejoin="round"/>
<path d="M956.20,534.40 L989.35,532.66 A33.20,33.20 0 0 0 933.98,509.73 Z" fill="#7FFFD4" stroke="#6E6E6E" stroke-width="0.75" stroke-linejoin="round"/>
<path d="M956.20,534.40 L933.98,509.73 A33.20,33.20 0 1 0 989.40,534.40 Z" fill="#FFD700" stroke="#6E6E6E" stroke-width="0.75" stroke-linejoin="round"/>
<circle cx="956.2" cy="534.4" r="8.9" fill="#F768A1" stroke="#6E6E6E" stroke-width="0.9"/>
<circle cx="1113.8" cy="448.5" r="23.6" fill="#FFD700"/>
<path d="M1113.80,448.50 L1137.40,448.50 A23.60,23.60 0 0 0 1101.29,428.49 Z" fill="#7FFFD4" stroke="#6E6E6E" stroke-width="0.75" stroke-linejoin="round"/>
<path d="M1113.80,448.50 L1101.29,428.49 A23.60,23.60 0 1 0 1137.40,448.50 Z" fill="#FFD700" stroke="#6E6E6E" stroke-width="0.75" stroke-linejoin="round"/>
<circle cx="1113.8" cy="448.5" r="8.9" fill="#F768A1" stroke="#6E6E6E" stroke-width="0.9"/>
<circle cx="996.8" cy="490.5" r="28.8" fill="#FFD700"/>
<path d="M996.80,490.50 L1025.60,490.50 A28.80,28.80 0 0 0 1024.62,483.05 Z" fill="#4169E1" stroke="#6E6E6E" stroke-width="0.75" stroke-linejoin="round"/>
<path d="M996.80,490.50 L1024.62,483.05 A28.80,28.80 0 0 0 971.86,476.10 Z" fill="#7FFFD4" stroke="#6E6E6E" stroke-width="0.75" stroke-linejoin="round"/>
<path d="M996.80,490.50 L971.86,476.10 A28.80,28.80 0 1 0 1025.60,490.50 Z" fill="#FFD700" stroke="#6E6E6E" stroke-width="0.75" stroke-linejoin="round"/>
<circle cx="996.8" cy="490.5" r="8.9" fill="#F768A1" stroke="#6E6E6E" stroke-width="0.9"/>
<circle cx="1091.2" cy="530.6" r="16.7" fill="#4169E1"/>
<path d="M1091.20,530.60 L1107.90,530.60 A16.70,16.70 0 0 0 1107.86,529.44 Z" fill="#008000" stroke="#6E6E6E" stroke-width="0.75" stroke-linejoin="round"/>
<path d="M1091.20,530.60 L1107.86,529.44 A16.70,16.70 0 0 0 1107.40,526.56 Z" fill="#7FFFD4" stroke="#6E6E6E" stroke-width="0.75" stroke-linejoin="round"/>
<path d="M1091.20,530.60 L1107.40,526.56 A16.70,16.70 0 1 0 1107.90,530.60 Z" fill="#4169E1" stroke="#6E6E6E" stroke-width="0.75" stroke-linejoin="round"/>
<circle cx="1091.2" cy="530.6" r="8.9" fill="#FFF7F3" stroke="#6E6E6E" stroke-width="0.9"/>
<circle cx="1239.4" cy="406.3" r="16.7" fill="#FFD700"/>
<path d="M1239.40,406.30 L1256.10,406.30 A16.70,16.70 0 0 0 1255.94,403.98 Z" fill="#4169E1" stroke="#6E6E6E" stroke-width="0.75" stroke-linejoin="round"/>
<path d="M1239.40,406.30 L1255.94,403.98 A16.70,16.70 0 0 0 1255.53,401.98 Z" fill="#008000" stroke="#6E6E6E" stroke-width="0.75" stroke-linejoin="round"/>
<path d="M1239.40,406.30 L1255.53,401.98 A16.70,16.70 0 0 0 1229.82,392.62 Z" fill="#7FFFD4" stroke="#6E6E6E" stroke-width="0.75" stroke-linejoin="round"/>
<path d="M1239.40,406.30 L1229.82,392.62 A16.70,16.70 0 1 0 1256.10,406.30 Z" fill="#FFD700" stroke="#6E6E6E" stroke-width="0.75" stroke-linejoin="round"/>
<circle cx="1239.4" cy="406.3" r="8.9" fill="#F768A1" stroke="#6E6E6E" stroke-width="0.9"/>
<circle cx="1310.0" cy="396.3" r="16.7" fill="#00BFFF"/>
<path d="M1310.00,396.30 L1326.70,396.30 A16.70,16.70 0 0 0 1324.75,388.46 Z" fill="#4169E1" stroke="#6E6E6E" stroke-width="0.75" stroke-linejoin="round"/>
<path d="M1310.00,396.30 L1324.75,388.46 A16.70,16.70 0 0 0 1311.46,379.66 Z" fill="#008000" stroke="#6E6E6E" stroke-width="0.75" stroke-linejoin="round"/>
<path d="M1310.00,396.30 L1311.46,379.66 A16.70,16.70 0 1 0 1326.70,396.30 Z" fill="#00BFFF" stroke="#6E6E6E" stroke-width="0.75" stroke-linejoin="round"/>
<circle cx="1310.0" cy="396.3" r="8.9" fill="#FCC5C0" stroke="#6E6E6E" stroke-width="0.9"/>
<circle cx="1355.9" cy="437.0" r="16.7" fill="#7FFFD4"/>
<path d="M1355.90,437.00 L1372.60,437.00 A16.70,16.70 0 0 0 1353.00,420.55 Z" fill="#008000" stroke="#6E6E6E" stroke-width="0.75" stroke-linejoin="round"/>
<path d="M1355.90,437.00 L1353.00,420.55 A16.70,16.70 0 1 0 1372.60,437.00 Z" fill="#7FFFD4" stroke="#6E6E6E" stroke-width="0.75" stroke-linejoin="round"/>
<circle cx="1355.9" cy="437.0" r="8.9" fill="#FCC5C0" stroke="#6E6E6E" stroke-width="0.9"/>
<circle cx="1247.3" cy="463.7" r="16.7" fill="#FFD700"/>
<path d="M1247.30,463.70 L1264.00,463.70 A16.70,16.70 0 0 0 1261.76,455.35 Z" fill="#4169E1" stroke="#6E6E6E" stroke-width="0.75" stroke-linejoin="round"/>
<path d="M1247.30,463.70 L1261.76,455.35 A16.70,16.70 0 0 0 1254.36,448.56 Z" fill="#00BFFF" stroke="#6E6E6E" stroke-width="0.75" stroke-linejoin="round"/>
<path d="M1247.30,463.70 L1254.36,448.56 A16.70,16.70 0 0 0 1230.85,460.80 Z" fill="#7FFFD4" stroke="#6E6E6E" stroke-width="0.75" stroke-linejoin="round"/>
<path d="M1247.30,463.70 L1230.85,460.80 A16.70,16.70 0 1 0 1264.00,463.70 Z" fill="#FFD700" stroke="#6E6E6E" stroke-width="0.75" stroke-linejoin="round"/>
<circle cx="1247.3" cy="463.7" r="8.9" fill="#F768A1" stroke="#6E6E6E" stroke-width="0.9"/>
<circle cx="1181.5" cy="517.0" r="16.7" fill="#FFD700"/>
<path d="M1181.50,517.00 L1198.20,517.00 A16.70,16.70 0 0 0 1165.81,511.29 Z" fill="#7FFFD4" stroke="#6E6E6E" stroke-width="0.75" stroke-linejoin="round"/>
<path d="M1181.50,517.00 L1165.81,511.29 A16.70,16.70 0 1 0 1198.20,517.00 Z" fill="#FFD700" stroke="#6E6E6E" stroke-width="0.75" stroke-linejoin="round"/>
<circle cx="1181.5" cy="517.0" r="8.9" fill="#FCC5C0" stroke="#6E6E6E" stroke-width="0.9"/>
<circle cx="1285.2" cy="541.8" r="16.7" fill="#00BFFF"/>
<path d="M1285.20,541.80 L1301.74,539.48 A16.70,16.70 0 0 0 1301.25,537.20 Z" fill="#008000" stroke="#6E6E6E" stroke-width="0.75" stroke-linejoin="round"/>
<path d="M1285.20,541.80 L1301.25,537.20 A16.70,16.70 0 1 0 1301.74,539.48 Z" fill="#00BFFF" stroke="#6E6E6E" stroke-width="0.75" stroke-linejoin="round"/>
<circle cx="1285.2" cy="541.8" r="8.9" fill="#49006A" stroke="#6E6E6E" stroke-width="0.9"/>
<circle cx="905.5" cy="577.8" r="16.4" fill="#7FFFD4"/>
<path d="M905.50,577.80 L921.84,576.37 A16.40,16.40 0 0 0 920.91,572.19 Z" fill="#4169E1" stroke="#6E6E6E" stroke-width="0.75" stroke-linejoin="round"/>
<path d="M905.50,577.80 L920.91,572.19 A16.40,16.40 0 0 0 906.93,561.46 Z" fill="#008000" stroke="#6E6E6E" stroke-width="0.75" stroke-linejoin="round"/>
<path d="M905.50,577.80 L906.93,561.46 A16.40,16.40 0 1 0 921.84,576.37 Z" fill="#7FFFD4" stroke="#6E6E6E" stroke-width="0.75" stroke-linejoin="round"/>
<circle cx="905.5" cy="577.8" r="8.9" fill="#AE017E" stroke="#6E6E6E" stroke-width="0.9"/>
<circle cx="942.5" cy="585.7" r="23.2" fill="#FFD700"/>
<path d="M942.50,585.70 L965.67,586.91 A23.20,23.20 0 0 0 965.70,585.30 Z" fill="#4169E1" stroke="#6E6E6E" stroke-width="0.75" stroke-linejoin="round"/>
<path d="M942.50,585.70 L965.70,585.30 A23.20,23.20 0 0 0 965.35,581.67 Z" fill="#008000" stroke="#6E6E6E" stroke-width="0.75" stroke-linejoin="round"/>
<path d="M942.50,585.70 L965.35,581.67 A23.20,23.20 0 0 0 922.41,574.10 Z" fill="#7FFFD4" stroke="#6E6E6E" stroke-width="0.75" stroke-linejoin="round"/>
<path d="M942.50,585.70 L922.41,574.10 A23.20,23.20 0 1 0 965.67,586.91 Z" fill="#FFD700" stroke="#6E6E6E" stroke-width="0.75" stroke-linejoin="round"/>
<circle cx="942.5" cy="585.7" r="8.9" fill="#F768A1" stroke="#6E6E6E" stroke-width="0.9"/>
<circle cx="954.0" cy="610.2" r="16.3" fill="#7FFFD4"/>
<path d="M954.00,610.20 L970.30,610.20 A16.30,16.30 0 0 0 968.77,603.31 Z" fill="#008000" stroke="#6E6E6E" stroke-width="0.75" stroke-linejoin="round"/>
<path d="M954.00,610.20 L968.77,603.31 A16.30,16.30 0 0 0 951.17,594.15 Z" fill="#FFD700" stroke="#6E6E6E" stroke-width="0.75" stroke-linejoin="round"/>
<path d="M954.00,610.20 L951.17,594.15 A16.30,16.30 0 1 0 970.30,610.20 Z" fill="#7FFFD4" stroke="#6E6E6E" stroke-width="0.75" stroke-linejoin="round"/>
<circle cx="954.0" cy="610.2" r="8.9" fill="#FCC5C0" stroke="#6E6E6E" stroke-width="0.9"/>
<circle cx="991.2" cy="604.5" r="23.0" fill="#FFD700"/>
<path d="M991.20,604.50 L1014.20,604.50 A23.00,23.00 0 0 0 980.40,584.19 Z" fill="#7FFFD4" stroke="#6E6E6E" stroke-width="0.75" stroke-linejoin="round"/>
<path d="M991.20,604.50 L980.40,584.19 A23.00,23.00 0 1 0 1014.20,604.50 Z" fill="#FFD700" stroke="#6E6E6E" stroke-width="0.75" stroke-linejoin="round"/>
<circle cx="991.2" cy="604.5" r="8.9" fill="#F768A1" stroke="#6E6E6E" stroke-width="0.9"/>
<circle cx="1007.3" cy="577.8" r="16.7" fill="#FFD700"/>
<path d="M1007.30,577.80 L1023.99,577.22 A16.70,16.70 0 0 0 1023.84,575.48 Z" fill="#4169E1" stroke="#6E6E6E" stroke-width="0.75" stroke-linejoin="round"/>
<path d="M1007.30,577.80 L1023.84,575.48 A16.70,16.70 0 0 0 992.84,569.45 Z" fill="#7FFFD4" stroke="#6E6E6E" stroke-width="0.75" stroke-linejoin="round"/>
<path d="M1007.30,577.80 L992.84,569.45 A16.70,16.70 0 1 0 1023.99,577.22 Z" fill="#FFD700" stroke="#6E6E6E" stroke-width="0.75" stroke-linejoin="round"/>
<circle cx="1007.3" cy="577.8" r="8.9" fill="#F768A1" stroke="#6E6E6E" stroke-width="0.9"/>
<circle cx="1038.6" cy="545.4" r="16.7" fill="#FFD700"/>
<path d="M1038.60,545.40 L1055.30,545.40 A16.70,16.70 0 0 0 1055.14,543.08 Z" fill="#4169E1" stroke="#6E6E6E" stroke-width="0.75" stroke-linejoin="round"/>
<path d="M1038.60,545.40 L1055.14,543.08 A16.70,16.70 0 0 0 1025.62,534.89 Z" fill="#7FFFD4" stroke="#6E6E6E" stroke-width="0.75" stroke-linejoin="round"/>
<path d="M1038.60,545.40 L1025.62,534.89 A16.70,16.70 0 1 0 1055.30,545.40 Z" fill="#FFD700" stroke="#6E6E6E" stroke-width="0.75" stroke-linejoin="round"/>
<circle cx="1038.6" cy="545.4" r="8.9" fill="#AE017E" stroke="#6E6E6E" stroke-width="0.9"/>
<circle cx="1056.0" cy="604.5" r="28.5" fill="#FFD700"/>
<path d="M1056.00,604.50 L1084.50,604.50 A28.50,28.50 0 0 0 1075.44,583.66 Z" fill="#8A2BE2" stroke="#6E6E6E" stroke-width="0.75" stroke-linejoin="round"/>
<path d="M1056.00,604.50 L1075.44,583.66 A28.50,28.50 0 0 0 1031.83,589.40 Z" fill="#7FFFD4" stroke="#6E6E6E" stroke-width="0.75" stroke-linejoin="round"/>
<path d="M1056.00,604.50 L1031.83,589.40 A28.50,28.50 0 1 0 1084.50,604.50 Z" fill="#FFD700" stroke="#6E6E6E" stroke-width="0.75" stroke-linejoin="round"/>
<circle cx="1056.0" cy="604.5" r="8.9" fill="#AE017E" stroke="#6E6E6E" stroke-width="0.9"/>
<circle cx="1112.4" cy="595.1" r="23.2" fill="#FFD700"/>
<path d="M1112.40,595.10 L1135.60,595.10 A23.20,23.20 0 0 0 1135.57,593.89 Z" fill="#008000" stroke="#6E6E6E" stroke-width="0.75" stroke-linejoin="round"/>
<path d="M1112.40,595.10 L1135.57,593.89 A23.20,23.20 0 0 0 1090.60,587.17 Z" fill="#7FFFD4" stroke="#6E6E6E" stroke-width="0.75" stroke-linejoin="round"/>
<path d="M1112.40,595.10 L1090.60,587.17 A23.20,23.20 0 1 0 1135.60,595.10 Z" fill="#FFD700" stroke="#6E6E6E" stroke-width="0.75" stroke-linejoin="round"/>
<circle cx="1112.4" cy="595.1" r="8.9" fill="#FCC5C0" stroke="#6E6E6E" stroke-width="0.9"/>
<circle cx="1139.2" cy="630.0" r="28.8" fill="#FFD700"/>
<path d="M1139.20,630.00 L1168.00,630.00 A28.80,28.80 0 0 0 1122.68,606.41 Z" fill="#7FFFD4" stroke="#6E6E6E" stroke-width="0.75" stroke-linejoin="round"/>
<path d="M1139.20,630.00 L1122.68,606.41 A28.80,28.80 0 1 0 1168.00,630.00 Z" fill="#FFD700" stroke="#6E6E6E" stroke-width="0.75" stroke-linejoin="round"/>
<circle cx="1139.2" cy="630.0" r="8.9" fill="#F768A1" stroke="#6E6E6E" stroke-width="0.9"/>
<circle cx="990.6" cy="657.2" r="28.8" fill="#FFD700"/>
<path d="M990.60,657.20 L1019.40,657.20 A28.80,28.80 0 0 0 974.08,633.61 Z" fill="#7FFFD4" stroke="#6E6E6E" stroke-width="0.75" stroke-linejoin="round"/>
<path d="M990.60,657.20 L974.08,633.61 A28.80,28.80 0 1 0 1019.40,657.20 Z" fill="#FFD700" stroke="#6E6E6E" stroke-width="0.75" stroke-linejoin="round"/>
<circle cx="990.6" cy="657.2" r="8.9" fill="#F768A1" stroke="#6E6E6E" stroke-width="0.9"/>
<circle cx="1155.5" cy="569.4" r="16.7" fill="#7FFFD4"/>
<path d="M1155.50,569.40 L1172.20,569.40 A16.70,16.70 0 0 0 1172.18,568.53 Z" fill="#008000" stroke="#6E6E6E" stroke-width="0.75" stroke-linejoin="round"/>
<path d="M1155.50,569.40 L1172.18,568.53 A16.70,16.70 0 1 0 1172.20,569.40 Z" fill="#7FFFD4" stroke="#6E6E6E" stroke-width="0.75" stroke-linejoin="round"/>
<circle cx="1155.5" cy="569.4" r="8.9" fill="#FFF7F3" stroke="#6E6E6E" stroke-width="0.9"/>
<circle cx="1248.4" cy="629.0" r="23.5" fill="#FFD700"/>
<path d="M1248.40,629.00 L1271.90,629.00 A23.50,23.50 0 0 0 1271.89,628.18 Z" fill="#008000" stroke="#6E6E6E" stroke-width="0.75" stroke-linejoin="round"/>
<path d="M1248.40,629.00 L1271.89,628.18 A23.50,23.50 0 0 0 1237.37,608.25 Z" fill="#7FFFD4" stroke="#6E6E6E" stroke-width="0.75" stroke-linejoin="round"/>
<path d="M1248.40,629.00 L1237.37,608.25 A23.50,23.50 0 1 0 1271.90,629.00 Z" fill="#FFD700" stroke="#6E6E6E" stroke-width="0.75" stroke-linejoin="round"/>
<circle cx="1248.4" cy="629.0" r="8.9" fill="#AE017E" stroke="#6E6E6E" stroke-width="0.9"/>
</g>
<text x="1401.7" y="86.6" font-size="19.35" text-anchor="start" fill="#262626" font-weight="normal" >Storage duration (h)</text>
<circle cx="1455.0" cy="103.5" r="6.2" fill="#FFF7F3" stroke="#666" stroke-width="1.8"/>
<text x="1490.0" y="109.9" font-size="19.35" text-anchor="start" fill="#262626" font-weight="normal" >0 - 4</text>
<circle cx="1455.0" cy="126.1" r="6.2" fill="#FCC5C0" stroke="#666" stroke-width="1.8"/>
<text x="1490.0" y="132.5" font-size="19.35" text-anchor="start" fill="#262626" font-weight="normal" >4 - 6</text>
<circle cx="1455.0" cy="148.7" r="6.2" fill="#F768A1" stroke="#666" stroke-width="1.8"/>
<text x="1490.0" y="155.1" font-size="19.35" text-anchor="start" fill="#262626" font-weight="normal" >6 - 8</text>
<circle cx="1455.0" cy="171.3" r="6.2" fill="#AE017E" stroke="#666" stroke-width="1.8"/>
<text x="1490.0" y="177.7" font-size="19.35" text-anchor="start" fill="#262626" font-weight="normal" >8 - 10</text>
<circle cx="1455.0" cy="193.9" r="6.2" fill="#49006A" stroke="#666" stroke-width="1.8"/>
<text x="1490.0" y="200.3" font-size="19.35" text-anchor="start" fill="#262626" font-weight="normal" >10+</text>
<text x="1401.7" y="238.0" font-size="19.35" text-anchor="start" fill="#262626" font-weight="normal" >Existing Transmission</text>
<text x="1401.7" y="259.0" font-size="19.35" text-anchor="start" fill="#262626" font-weight="normal" >Capacity (GW)</text>
<line x1="1441.8" y1="275.5" x2="1482.7" y2="275.5" stroke="#008000" stroke-width="0.8" stroke-linecap="round"/>
<text x="1497.5" y="281.9" font-size="19.35" text-anchor="start" fill="#262626" font-weight="normal" >0 - 1</text>
<line x1="1441.8" y1="298.1" x2="1482.7" y2="298.1" stroke="#008000" stroke-width="1.7" stroke-linecap="round"/>
<text x="1497.5" y="304.4" font-size="19.35" text-anchor="start" fill="#262626" font-weight="normal" >1 - 5</text>
<line x1="1441.8" y1="320.6" x2="1482.7" y2="320.6" stroke="#008000" stroke-width="2.8" stroke-linecap="round"/>
<text x="1497.5" y="327.0" font-size="19.35" text-anchor="start" fill="#262626" font-weight="normal" >5 - 10</text>
<line x1="1441.8" y1="343.1" x2="1482.7" y2="343.1" stroke="#008000" stroke-width="4.6" stroke-linecap="round"/>
<text x="1497.5" y="349.5" font-size="19.35" text-anchor="start" fill="#262626" font-weight="normal" >10+</text>
<text x="1401.7" y="389.8" font-size="19.35" text-anchor="start" fill="#262626" font-weight="normal" >New Transmission</text>
<text x="1401.7" y="411.0" font-size="19.35" text-anchor="start" fill="#262626" font-weight="normal" >Capacity (GW)</text>
<line x1="1426.6" y1="426.6" x2="1468.8" y2="426.6" stroke="#FF0000" stroke-width="0.8" stroke-linecap="round"/>
<text x="1482.5" y="433.0" font-size="19.35" text-anchor="start" fill="#262626" font-weight="normal" >0 - 1</text>
<line x1="1426.6" y1="449.2" x2="1468.8" y2="449.2" stroke="#FF0000" stroke-width="1.7" stroke-linecap="round"/>
<text x="1482.5" y="455.6" font-size="19.35" text-anchor="start" fill="#262626" font-weight="normal" >1 - 5</text>
<line x1="1426.6" y1="471.7" x2="1468.8" y2="471.7" stroke="#FF0000" stroke-width="2.8" stroke-linecap="round"/>
<text x="1482.5" y="478.1" font-size="19.35" text-anchor="start" fill="#262626" font-weight="normal" >5 - 10</text>
<line x1="1426.6" y1="494.2" x2="1468.8" y2="494.2" stroke="#FF0000" stroke-width="4.6" stroke-linecap="round"/>
<text x="1482.5" y="500.6" font-size="19.35" text-anchor="start" fill="#262626" font-weight="normal" >10+</text>
<text x="1401.7" y="539.0" font-size="19.35" text-anchor="start" fill="#262626" font-weight="normal" >Power Capacity (GW)</text>
<circle cx="1454.2" cy="565.6" r="16.6" fill="#000" fill-opacity="0.5" stroke="#000" stroke-opacity="0.6" stroke-width="1.9"/>
<text x="1489.5" y="571.0" font-size="19.35" text-anchor="start" fill="#262626" font-weight="normal" >0 - 10</text>
<circle cx="1454.2" cy="596.7" r="23.8" fill="#000" fill-opacity="0.5" stroke="#000" stroke-opacity="0.6" stroke-width="1.9"/>
<text x="1489.5" y="602.2" font-size="19.35" text-anchor="start" fill="#262626" font-weight="normal" >10 - 30</text>
<circle cx="1454.2" cy="627.8" r="29.4" fill="#000" fill-opacity="0.5" stroke="#000" stroke-opacity="0.6" stroke-width="1.9"/>
<text x="1489.5" y="634.0" font-size="19.35" text-anchor="start" fill="#262626" font-weight="normal" >30 - 60</text>
<circle cx="1454.2" cy="658.4" r="33.9" fill="#000" fill-opacity="0.5" stroke="#000" stroke-opacity="0.6" stroke-width="1.9"/>
<text x="1489.5" y="664.8" font-size="19.35" text-anchor="start" fill="#262626" font-weight="normal" >60+</text>
<rect x="747.4" y="696.5" width="731.0" height="56.7" rx="4.5" ry="4.5" fill="#EEEEF4" stroke="#D3D3D5" stroke-width="2.4"/>
<rect x="768.1" y="706.6" width="12.4" height="12.4" rx="1.2" fill="#008000"/>
<text x="810.0" y="718.4" font-size="19.35" text-anchor="start" fill="#262626" font-weight="normal" >Biomass</text>
<rect x="768.1" y="730.4" width="12.4" height="12.4" rx="1.2" fill="#FFD700"/>
<text x="810.0" y="742.2" font-size="19.35" text-anchor="start" fill="#262626" font-weight="normal" >Solar</text>
<rect x="916.6" y="706.6" width="12.4" height="12.4" rx="1.2" fill="#7FFFD4"/>
<text x="958.5" y="718.4" font-size="19.35" text-anchor="start" fill="#262626" font-weight="normal" >Storage</text>
<rect x="916.6" y="730.4" width="12.4" height="12.4" rx="1.2" fill="#00BFFF"/>
<text x="958.5" y="742.2" font-size="19.35" text-anchor="start" fill="#262626" font-weight="normal" >Wind</text>
<rect x="1058.9" y="706.6" width="12.4" height="12.4" rx="1.2" fill="#4169E1"/>
<text x="1100.3" y="718.4" font-size="19.35" text-anchor="start" fill="#262626" font-weight="normal" >Hydro</text>
<rect x="1058.9" y="730.4" width="12.4" height="12.4" rx="1.2" fill="#8A2BE2"/>
<text x="1100.3" y="742.2" font-size="19.35" text-anchor="start" fill="#262626" font-weight="normal" >Nuclear</text>
<rect x="1199.8" y="706.6" width="12.4" height="12.4" rx="1.2" fill="#FF0000"/>
<text x="1241.7" y="718.4" font-size="19.35" text-anchor="start" fill="#262626" font-weight="normal" >Geothermal</text>
<rect x="1374.9" y="706.6" width="12.4" height="12.4" rx="1.2" fill="#000000"/>
<text x="1416.8" y="718.4" font-size="19.35" text-anchor="start" fill="#262626" font-weight="normal" >Waste</text>
</svg>
</body></html>
